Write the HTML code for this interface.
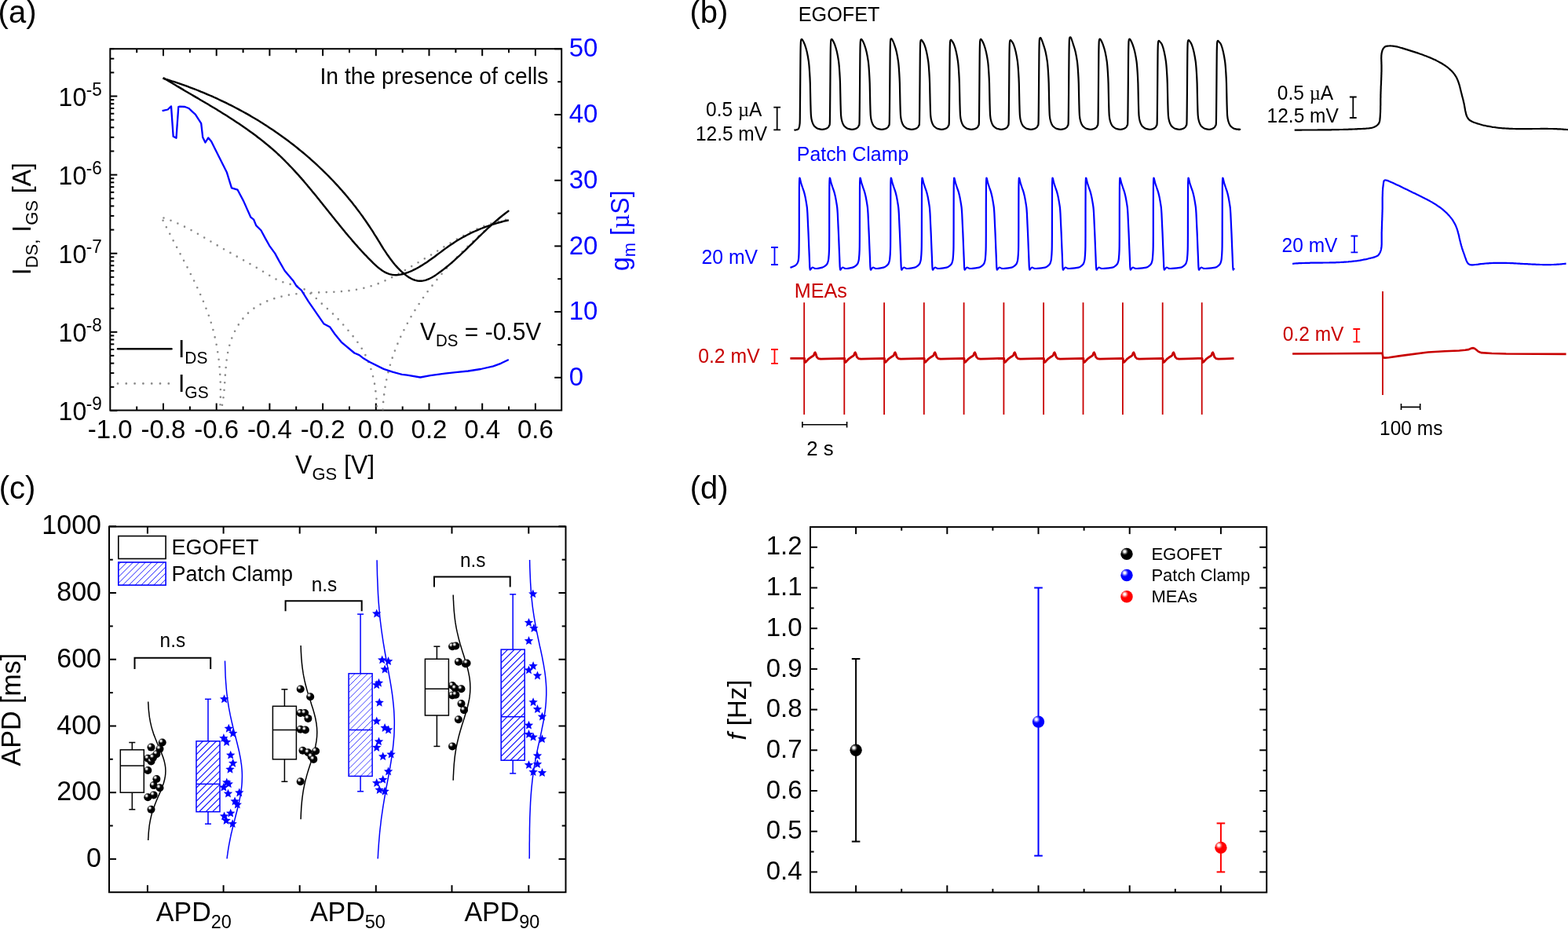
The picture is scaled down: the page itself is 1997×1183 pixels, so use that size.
<!DOCTYPE html>
<html><head><meta charset="utf-8"><style>
html,body{margin:0;padding:0;background:#fff;}
svg{display:block;}
text{font-family:"Liberation Sans", Arial, sans-serif;}
</style></head><body>
<svg width="1997" height="1183" viewBox="0 0 1997 1183">
<defs>
<pattern id="hatch" patternUnits="userSpaceOnUse" width="6" height="6" patternTransform="rotate(45)"><line x1="0" y1="0" x2="0" y2="6" stroke="#0000ff" stroke-width="1.15"/></pattern>
<pattern id="hatchL" patternUnits="userSpaceOnUse" width="5.7" height="5.7" patternTransform="rotate(45)"><line x1="0" y1="0" x2="0" y2="5.7" stroke="#0000ff" stroke-width="0.7"/></pattern>
<pattern id="hatchG" patternUnits="userSpaceOnUse" width="5.6" height="5.6" patternTransform="rotate(45)"><line x1="0" y1="0" x2="0" y2="5.6" stroke="#0000ff" stroke-width="0.9"/></pattern>
<radialGradient id="gk" cx="0.34" cy="0.32" r="0.7" fx="0.33" fy="0.3"><stop offset="0" stop-color="#fff"/><stop offset="0.12" stop-color="#f0f0f0"/><stop offset="0.3" stop-color="#444"/><stop offset="0.42" stop-color="#000"/><stop offset="1" stop-color="#000"/></radialGradient>
<radialGradient id="gb" cx="0.34" cy="0.32" r="0.7" fx="0.33" fy="0.3"><stop offset="0" stop-color="#fff"/><stop offset="0.12" stop-color="#eef"/><stop offset="0.32" stop-color="#44f"/><stop offset="0.45" stop-color="#00f"/><stop offset="1" stop-color="#00f"/></radialGradient>
<radialGradient id="gr" cx="0.34" cy="0.32" r="0.7" fx="0.33" fy="0.3"><stop offset="0" stop-color="#fff"/><stop offset="0.12" stop-color="#fee"/><stop offset="0.32" stop-color="#f44"/><stop offset="0.45" stop-color="#f00"/><stop offset="1" stop-color="#f00"/></radialGradient>
</defs>
<rect width="1997" height="1183" fill="#fff"/>
<text transform="translate(-2.4,29.3) scale(1,1.035)" font-size="40">(a)</text>
<line x1="174.2" y1="62.2" x2="174.2" y2="67.2" stroke="#000" stroke-width="2"/>
<line x1="174.2" y1="522.5" x2="174.2" y2="517.5" stroke="#000" stroke-width="2"/>
<line x1="208" y1="62.2" x2="208" y2="71.2" stroke="#000" stroke-width="2"/>
<line x1="208" y1="522.5" x2="208" y2="513.5" stroke="#000" stroke-width="2"/>
<line x1="241.9" y1="62.2" x2="241.9" y2="67.2" stroke="#000" stroke-width="2"/>
<line x1="241.9" y1="522.5" x2="241.9" y2="517.5" stroke="#000" stroke-width="2"/>
<line x1="275.7" y1="62.2" x2="275.7" y2="71.2" stroke="#000" stroke-width="2"/>
<line x1="275.7" y1="522.5" x2="275.7" y2="513.5" stroke="#000" stroke-width="2"/>
<line x1="309.6" y1="62.2" x2="309.6" y2="67.2" stroke="#000" stroke-width="2"/>
<line x1="309.6" y1="522.5" x2="309.6" y2="517.5" stroke="#000" stroke-width="2"/>
<line x1="343.4" y1="62.2" x2="343.4" y2="71.2" stroke="#000" stroke-width="2"/>
<line x1="343.4" y1="522.5" x2="343.4" y2="513.5" stroke="#000" stroke-width="2"/>
<line x1="377.2" y1="62.2" x2="377.2" y2="67.2" stroke="#000" stroke-width="2"/>
<line x1="377.2" y1="522.5" x2="377.2" y2="517.5" stroke="#000" stroke-width="2"/>
<line x1="411.1" y1="62.2" x2="411.1" y2="71.2" stroke="#000" stroke-width="2"/>
<line x1="411.1" y1="522.5" x2="411.1" y2="513.5" stroke="#000" stroke-width="2"/>
<line x1="445" y1="62.2" x2="445" y2="67.2" stroke="#000" stroke-width="2"/>
<line x1="445" y1="522.5" x2="445" y2="517.5" stroke="#000" stroke-width="2"/>
<line x1="478.8" y1="62.2" x2="478.8" y2="71.2" stroke="#000" stroke-width="2"/>
<line x1="478.8" y1="522.5" x2="478.8" y2="513.5" stroke="#000" stroke-width="2"/>
<line x1="512.7" y1="62.2" x2="512.7" y2="67.2" stroke="#000" stroke-width="2"/>
<line x1="512.7" y1="522.5" x2="512.7" y2="517.5" stroke="#000" stroke-width="2"/>
<line x1="546.5" y1="62.2" x2="546.5" y2="71.2" stroke="#000" stroke-width="2"/>
<line x1="546.5" y1="522.5" x2="546.5" y2="513.5" stroke="#000" stroke-width="2"/>
<line x1="580.4" y1="62.2" x2="580.4" y2="67.2" stroke="#000" stroke-width="2"/>
<line x1="580.4" y1="522.5" x2="580.4" y2="517.5" stroke="#000" stroke-width="2"/>
<line x1="614.2" y1="62.2" x2="614.2" y2="71.2" stroke="#000" stroke-width="2"/>
<line x1="614.2" y1="522.5" x2="614.2" y2="513.5" stroke="#000" stroke-width="2"/>
<line x1="648" y1="62.2" x2="648" y2="67.2" stroke="#000" stroke-width="2"/>
<line x1="648" y1="522.5" x2="648" y2="517.5" stroke="#000" stroke-width="2"/>
<line x1="681.9" y1="62.2" x2="681.9" y2="71.2" stroke="#000" stroke-width="2"/>
<line x1="681.9" y1="522.5" x2="681.9" y2="513.5" stroke="#000" stroke-width="2"/>
<line x1="140.3" y1="522.9" x2="149.3" y2="522.9" stroke="#000" stroke-width="2"/>
<line x1="140.3" y1="492.8" x2="145.3" y2="492.8" stroke="#000" stroke-width="2"/>
<line x1="140.3" y1="475.1" x2="145.3" y2="475.1" stroke="#000" stroke-width="2"/>
<line x1="140.3" y1="462.6" x2="145.3" y2="462.6" stroke="#000" stroke-width="2"/>
<line x1="140.3" y1="452.9" x2="145.3" y2="452.9" stroke="#000" stroke-width="2"/>
<line x1="140.3" y1="445" x2="145.3" y2="445" stroke="#000" stroke-width="2"/>
<line x1="140.3" y1="438.3" x2="145.3" y2="438.3" stroke="#000" stroke-width="2"/>
<line x1="140.3" y1="432.5" x2="145.3" y2="432.5" stroke="#000" stroke-width="2"/>
<line x1="140.3" y1="427.4" x2="145.3" y2="427.4" stroke="#000" stroke-width="2"/>
<line x1="140.3" y1="422.8" x2="149.3" y2="422.8" stroke="#000" stroke-width="2"/>
<line x1="140.3" y1="392.7" x2="145.3" y2="392.7" stroke="#000" stroke-width="2"/>
<line x1="140.3" y1="375" x2="145.3" y2="375" stroke="#000" stroke-width="2"/>
<line x1="140.3" y1="362.5" x2="145.3" y2="362.5" stroke="#000" stroke-width="2"/>
<line x1="140.3" y1="352.8" x2="145.3" y2="352.8" stroke="#000" stroke-width="2"/>
<line x1="140.3" y1="344.9" x2="145.3" y2="344.9" stroke="#000" stroke-width="2"/>
<line x1="140.3" y1="338.2" x2="145.3" y2="338.2" stroke="#000" stroke-width="2"/>
<line x1="140.3" y1="332.4" x2="145.3" y2="332.4" stroke="#000" stroke-width="2"/>
<line x1="140.3" y1="327.3" x2="145.3" y2="327.3" stroke="#000" stroke-width="2"/>
<line x1="140.3" y1="322.7" x2="149.3" y2="322.7" stroke="#000" stroke-width="2"/>
<line x1="140.3" y1="292.6" x2="145.3" y2="292.6" stroke="#000" stroke-width="2"/>
<line x1="140.3" y1="274.9" x2="145.3" y2="274.9" stroke="#000" stroke-width="2"/>
<line x1="140.3" y1="262.4" x2="145.3" y2="262.4" stroke="#000" stroke-width="2"/>
<line x1="140.3" y1="252.7" x2="145.3" y2="252.7" stroke="#000" stroke-width="2"/>
<line x1="140.3" y1="244.8" x2="145.3" y2="244.8" stroke="#000" stroke-width="2"/>
<line x1="140.3" y1="238.1" x2="145.3" y2="238.1" stroke="#000" stroke-width="2"/>
<line x1="140.3" y1="232.3" x2="145.3" y2="232.3" stroke="#000" stroke-width="2"/>
<line x1="140.3" y1="227.2" x2="145.3" y2="227.2" stroke="#000" stroke-width="2"/>
<line x1="140.3" y1="222.6" x2="149.3" y2="222.6" stroke="#000" stroke-width="2"/>
<line x1="140.3" y1="192.5" x2="145.3" y2="192.5" stroke="#000" stroke-width="2"/>
<line x1="140.3" y1="174.8" x2="145.3" y2="174.8" stroke="#000" stroke-width="2"/>
<line x1="140.3" y1="162.3" x2="145.3" y2="162.3" stroke="#000" stroke-width="2"/>
<line x1="140.3" y1="152.6" x2="145.3" y2="152.6" stroke="#000" stroke-width="2"/>
<line x1="140.3" y1="144.7" x2="145.3" y2="144.7" stroke="#000" stroke-width="2"/>
<line x1="140.3" y1="138" x2="145.3" y2="138" stroke="#000" stroke-width="2"/>
<line x1="140.3" y1="132.2" x2="145.3" y2="132.2" stroke="#000" stroke-width="2"/>
<line x1="140.3" y1="127.1" x2="145.3" y2="127.1" stroke="#000" stroke-width="2"/>
<line x1="140.3" y1="122.5" x2="149.3" y2="122.5" stroke="#000" stroke-width="2"/>
<line x1="140.3" y1="92.4" x2="145.3" y2="92.4" stroke="#000" stroke-width="2"/>
<line x1="140.3" y1="74.7" x2="145.3" y2="74.7" stroke="#000" stroke-width="2"/>
<line x1="140.3" y1="62.2" x2="145.3" y2="62.2" stroke="#000" stroke-width="2"/>
<line x1="715.2" y1="480.8" x2="706.2" y2="480.8" stroke="#000" stroke-width="2"/>
<line x1="715.2" y1="439" x2="710.2" y2="439" stroke="#000" stroke-width="2"/>
<line x1="715.2" y1="397.1" x2="706.2" y2="397.1" stroke="#000" stroke-width="2"/>
<line x1="715.2" y1="355.2" x2="710.2" y2="355.2" stroke="#000" stroke-width="2"/>
<line x1="715.2" y1="313.4" x2="706.2" y2="313.4" stroke="#000" stroke-width="2"/>
<line x1="715.2" y1="271.6" x2="710.2" y2="271.6" stroke="#000" stroke-width="2"/>
<line x1="715.2" y1="229.7" x2="706.2" y2="229.7" stroke="#000" stroke-width="2"/>
<line x1="715.2" y1="187.9" x2="710.2" y2="187.9" stroke="#000" stroke-width="2"/>
<line x1="715.2" y1="146" x2="706.2" y2="146" stroke="#000" stroke-width="2"/>
<line x1="715.2" y1="104.2" x2="710.2" y2="104.2" stroke="#000" stroke-width="2"/>
<line x1="715.2" y1="62.3" x2="706.2" y2="62.3" stroke="#000" stroke-width="2"/>
<rect x="140.3" y="62.2" width="574.9" height="460.3" fill="none" stroke="#000" stroke-width="2"/>
<text transform="translate(74.6,535.3) scale(1,1.035)" font-size="32">10</text>
<text transform="translate(109.7,522.3) scale(1,1.035)" font-size="22.5">-9</text>
<text transform="translate(74.6,435.2) scale(1,1.035)" font-size="32">10</text>
<text transform="translate(109.7,422.2) scale(1,1.035)" font-size="22.5">-8</text>
<text transform="translate(74.6,335.1) scale(1,1.035)" font-size="32">10</text>
<text transform="translate(109.7,322.1) scale(1,1.035)" font-size="22.5">-7</text>
<text transform="translate(74.6,235) scale(1,1.035)" font-size="32">10</text>
<text transform="translate(109.7,222) scale(1,1.035)" font-size="22.5">-6</text>
<text transform="translate(74.6,134.9) scale(1,1.035)" font-size="32">10</text>
<text transform="translate(109.7,121.9) scale(1,1.035)" font-size="22.5">-5</text>
<text transform="translate(140.3,557.9) scale(1,1.035)" font-size="33" text-anchor="middle">-1.0</text>
<text transform="translate(208,557.9) scale(1,1.035)" font-size="33" text-anchor="middle">-0.8</text>
<text transform="translate(275.7,557.9) scale(1,1.035)" font-size="33" text-anchor="middle">-0.6</text>
<text transform="translate(343.4,557.9) scale(1,1.035)" font-size="33" text-anchor="middle">-0.4</text>
<text transform="translate(411.1,557.9) scale(1,1.035)" font-size="33" text-anchor="middle">-0.2</text>
<text transform="translate(478.8,557.9) scale(1,1.035)" font-size="33" text-anchor="middle">0.0</text>
<text transform="translate(546.5,557.9) scale(1,1.035)" font-size="33" text-anchor="middle">0.2</text>
<text transform="translate(614.2,557.9) scale(1,1.035)" font-size="33" text-anchor="middle">0.4</text>
<text transform="translate(681.9,557.9) scale(1,1.035)" font-size="33" text-anchor="middle">0.6</text>
<text transform="translate(724.7,490.9) scale(1,1.035)" font-size="33" fill="#0000ff">0</text>
<text transform="translate(724.7,407.2) scale(1,1.035)" font-size="33" fill="#0000ff">10</text>
<text transform="translate(724.7,323.5) scale(1,1.035)" font-size="33" fill="#0000ff">20</text>
<text transform="translate(724.7,239.8) scale(1,1.035)" font-size="33" fill="#0000ff">30</text>
<text transform="translate(724.7,156.1) scale(1,1.035)" font-size="33" fill="#0000ff">40</text>
<text transform="translate(724.7,72.4) scale(1,1.035)" font-size="33" fill="#0000ff">50</text>
<text transform="translate(38.8,350.2) rotate(-90) scale(1,1.035)" font-size="32">I<tspan font-size="22" dy="9">DS,</tspan><tspan dy="-9"> I</tspan><tspan font-size="22" dy="9">GS</tspan><tspan dy="-9"> [A]</tspan></text>
<text transform="translate(800.5,345) rotate(-90) scale(1,1.035)" font-size="32" fill="#0000ff">g<tspan font-size="22" dy="8.4">m</tspan><tspan dy="-8.4"> [<tspan font-family="Liberation Serif, serif">µ</tspan>S]</tspan></text>
<text transform="translate(376.1,602.8) scale(1,1.035)" font-size="32">V<tspan font-size="22" dy="8.2">GS</tspan><tspan dy="-8.2"> [V]</tspan></text>
<text transform="translate(407.5,107.2) scale(1,1.035)" font-size="28.3">In the presence of cells</text>
<text transform="translate(535,432.9) scale(1,1.035)" font-size="30">V<tspan font-size="20.5" dy="8">DS</tspan><tspan dy="-8"> = -0.5V</tspan></text>
<line x1="150" y1="444.2" x2="218.5" y2="444.2" stroke="#000" stroke-width="2.4" stroke-linecap="round"/>
<line x1="150" y1="488.4" x2="217" y2="488.4" stroke="#8a8a8a" stroke-width="2.8" stroke-dasharray="0 10.8" stroke-linecap="round"/>
<text transform="translate(227,455) scale(1,1.035)" font-size="30">I<tspan font-size="21" dy="8">DS</tspan></text>
<text transform="translate(227,499) scale(1,1.035)" font-size="30">I<tspan font-size="21" dy="8">GS</tspan></text>
<clipPath id="clipA"><rect x="140.3" y="62.2" width="574.9" height="460.3"/></clipPath>
<path d="M208.5,277.5 211.4,278.5 214.2,279.5 217.1,280.6 219.9,281.7 222.7,282.9 225.4,284.1 228.2,285.3 230.9,286.6 233.6,287.9 236.3,289.3 239,290.7 241.7,292.1 244.3,293.5 247,295 249.6,296.4 252.2,297.9 254.8,299.4 257.4,301 260,302.5 262.6,304 265.2,305.6 267.8,307.1 270.4,308.7 273,310.2 275.6,311.7 278.2,313.3 280.9,314.8 283.5,316.3 286.1,317.8 288.7,319.3 291.3,320.8 294,322.2 296.6,323.7 299.2,325.2 301.8,326.7 304.5,328.2 307.1,329.6 309.7,331.1 312.4,332.6 315,334.1 317.6,335.6 320.2,337.1 322.8,338.6 325.4,340.1 328.1,341.6 330.7,343.2 333.2,344.7 335.8,346.3 338.4,347.8 341,349.4 343.6,351 346.2,352.6 348.8,354.1 351.4,355.5 354.1,356.8 356.9,358 359.7,359.1 362.6,360 365.6,360.9 368.5,361.6 371.5,362.4 374.4,363.2 377.3,364.1 380.2,365 382.9,366.1 385.6,367.3 388.2,368.7 390.7,370.2 393.1,371.9 395.5,373.7 397.8,375.6 400,377.6 402.3,379.6 404.5,381.7 406.7,383.7 408.9,385.8 411.1,387.9 413.3,389.9 415.6,391.9 417.8,393.9 420,395.9 422.2,397.9 424.3,399.9 426.5,402 428.5,404 430.5,406.2 432.5,408.3 434.5,410.5 436.5,412.7 438.4,415 440.4,417.2 442.4,419.5 444.4,421.8 446.3,424.2 448.3,426.5 450.2,428.9 452.1,431.4 454,433.8 455.8,436.3 457.5,438.8 459.2,441.3 460.8,443.9 462.3,446.5 463.8,449.1 465.2,451.8 466.5,454.5 467.7,457.2 468.8,459.9 469.9,462.7 471,465.5 471.9,468.3 472.8,471.1 473.7,474 474.4,476.9 475.2,479.8 475.8,482.7 476.4,485.6 477,488.5 477.5,491.5 477.9,494.5 478.3,497.5 478.7,500.5 479,503.5 479.3,506.5 479.5,509.5 479.7,512.6 479.8,515.6 479.9,518.7 480,521.7 480,524.8 480,527.9 479.9,530.9 479.9,534 479.8,537.1 479.7,540.1" fill="none" stroke="#8a8a8a" stroke-width="2.6" stroke-linejoin="round" stroke-dasharray="0 9.6" stroke-linecap="round" clip-path="url(#clipA)"/>
<path d="M207.6,280.7 209,283.4 210.3,286.1 211.6,288.8 213,291.5 214.4,294.2 215.8,296.9 217.2,299.6 218.6,302.4 220,305.1 221.4,307.8 222.8,310.5 224.2,313.2 225.7,315.9 227.1,318.6 228.5,321.3 229.9,324 231.4,326.7 232.8,329.4 234.2,332.1 235.6,334.9 237.1,337.6 238.5,340.3 239.9,343 241.3,345.8 242.6,348.5 244,351.3 245.4,354 246.7,356.7 248.1,359.5 249.4,362.3 250.7,365 252,367.8 253.2,370.6 254.5,373.4 255.7,376.1 256.9,378.9 258.1,381.7 259.3,384.6 260.4,387.4 261.6,390.2 262.6,393 263.7,395.9 264.7,398.7 265.8,401.6 266.7,404.5 267.7,407.3 268.6,410.2 269.5,413.1 270.3,416 271.1,418.9 271.9,421.9 272.6,424.8 273.3,427.8 274,430.7 274.7,433.7 275.3,436.7 275.8,439.7 276.4,442.6 276.9,445.7 277.3,448.7 277.8,451.7 278.2,454.7 278.6,457.7 278.9,460.8 279.2,463.8 279.5,466.9 279.8,469.9 280,473 280.2,476.1 280.4,479.1 280.6,482.2 280.7,485.3 280.8,488.4 280.9,491.5 280.9,494.6 280.9,497.7 280.9,500.8 280.9,503.9 280.8,507 280.8,510.1 280.7,513.2 280.5,516.3" fill="none" stroke="#8a8a8a" stroke-width="2.6" stroke-linejoin="round" stroke-dasharray="0 9.6" stroke-linecap="round" clip-path="url(#clipA)"/>
<path d="M283,515.8 283.6,512.9 284,510 284.4,507.1 284.8,504.1 285.1,501.2 285.4,498.2 285.7,495.2 285.9,492.2 286.1,489.2 286.3,486.1 286.5,483.1 286.7,480 286.9,477 287.2,473.9 287.4,470.9 287.7,467.8 287.9,464.8 288.3,461.8 288.6,458.7 289,455.7 289.5,452.7 290,449.7 290.6,446.7 291.3,443.7 292,440.8 292.8,437.8 293.7,434.9 294.7,432.1 295.8,429.2 296.9,426.4 298.2,423.6 299.5,420.9 300.9,418.3 302.4,415.7 304,413.1 305.6,410.6 307.4,408.2 309.2,405.9 311.1,403.6 313.2,401.4 315.2,399.4 317.4,397.4 319.7,395.5 322,393.6 324.4,391.9 326.9,390.3 329.5,388.8 332.1,387.3 334.7,385.9 337.5,384.6 340.2,383.4 343.1,382.3 345.9,381.3 348.8,380.3 351.7,379.4 354.7,378.5 357.6,377.8 360.6,377.1 363.6,376.4 366.6,375.8 369.6,375.3 372.6,374.9 375.7,374.5 378.7,374.1 381.7,373.8 384.7,373.5 387.8,373.3 390.8,373.1 393.8,372.9 396.8,372.8 399.9,372.6 402.9,372.5 405.9,372.4 409,372.3 412,372.2 415,372.1 418,372 421.1,371.9 424.1,371.8 427.1,371.6 430.1,371.4 433.1,371.2 436.1,371 439.1,370.7 442.1,370.4 445.1,370.1 448.1,369.7 451,369.3 454,368.8 456.9,368.3 459.9,367.7 462.8,367 465.7,366.3 468.6,365.6 471.4,364.7 474.3,363.8 477.1,362.9 479.9,361.8 482.6,360.8 485.4,359.6 488.2,358.4 490.9,357.2 493.6,355.9 496.3,354.6 499,353.2 501.6,351.8 504.3,350.4 506.9,349 509.6,347.5 512.2,346.1 514.8,344.6 517.4,343.1 520,341.6 522.6,340.1 525.2,338.5 527.8,337 530.4,335.5 533,334 535.6,332.5 538.2,330.9 540.7,329.4 543.3,327.9 545.9,326.3 548.5,324.8 551,323.2 553.6,321.6 556.2,320.1 558.8,318.5 561.3,316.9 563.9,315.3 566.5,313.8 569.1,312.2 571.7,310.6 574.3,309.1 576.9,307.6 579.5,306 582.1,304.5 584.7,303 587.4,301.6 590,300.1 592.7,298.7 595.4,297.3 598.1,296 600.8,294.6 603.5,293.3 606.2,292.1 609,290.9 611.8,289.7 614.5,288.5 617.3,287.4 620.2,286.4 623,285.4 625.9,284.4 628.8,283.5 631.7,282.7 634.7,281.9 637.6,281.1 640.6,280.5 643.7,279.9 646.7,279.3" fill="none" stroke="#8a8a8a" stroke-width="2.6" stroke-linejoin="round" stroke-dasharray="0 9.6" stroke-linecap="round" clip-path="url(#clipA)"/>
<path d="M487.7,540.7 487.6,537.5 487.5,534.3 487.5,531.1 487.5,528 487.5,524.9 487.6,521.7 487.8,518.6 487.9,515.5 488.1,512.4 488.4,509.3 488.7,506.2 489.1,503.2 489.4,500.1 489.9,497.1 490.3,494.1 490.8,491.1 491.3,488.1 491.9,485.1 492.5,482.1 493.2,479.2 493.9,476.2 494.6,473.3 495.3,470.4 496.1,467.4 497,464.5 497.8,461.7 498.7,458.8 499.6,455.9 500.6,453.1 501.6,450.2 502.6,447.4 503.7,444.6 504.8,441.8 505.9,439 507,436.2 508.2,433.5 509.4,430.7 510.7,428 512,425.3 513.3,422.6 514.6,419.9 516,417.2 517.4,414.5 518.8,411.8 520.2,409.2 521.7,406.6 523.2,403.9 524.7,401.3 526.2,398.7 527.8,396.2 529.4,393.6 531,391 532.7,388.5 534.3,386 536,383.4 537.8,380.9 539.5,378.4 541.3,376 543,373.5 544.8,371 546.7,368.6 548.5,366.2 550.4,363.8 552.2,361.4 554.1,359 556.1,356.6 558,354.2 560,351.9 561.9,349.5 563.9,347.2 565.9,344.9 568,342.6 570,340.3 572.1,338.1 574.1,335.8 576.2,333.6 578.3,331.3 580.4,329.1 582.5,326.9 584.7,324.7 586.8,322.5 589,320.4 591.2,318.2 593.4,316.1 595.6,313.9 597.8,311.8 600,309.7 602.2,307.6 604.5,305.5 606.7,303.5 609,301.4 611.2,299.4 613.5,297.3 615.8,295.3 618,293.3 620.3,291.3 622.6,289.4 624.9,287.4 627.2,285.4 629.5,283.5 631.9,281.6 634.2,279.6 636.5,277.7 638.8,275.8 641.1,274 643.5,272.1 645.8,270.2 648.1,268.4" fill="none" stroke="#8a8a8a" stroke-width="2.6" stroke-linejoin="round" stroke-dasharray="0 9.6" stroke-linecap="round" clip-path="url(#clipA)"/>
<path d="M207.4,99.7 210.3,100.6 213.2,101.4 216.1,102.3 219,103.3 221.9,104.2 224.8,105.2 227.7,106.1 230.5,107.1 233.4,108.1 236.3,109.2 239.1,110.2 242,111.3 244.8,112.3 247.6,113.4 250.5,114.5 253.3,115.6 256.1,116.8 258.9,117.9 261.7,119.1 264.5,120.3 267.3,121.5 270.1,122.7 272.9,124 275.6,125.2 278.4,126.5 281.1,127.8 283.9,129.1 286.6,130.4 289.3,131.7 292,133.1 294.7,134.4 297.4,135.8 300.1,137.2 302.8,138.6 305.5,140.1 308.1,141.5 310.8,143 313.4,144.4 316.1,145.9 318.7,147.4 321.3,149 323.9,150.5 326.5,152 329.1,153.6 331.7,155.2 334.2,156.8 336.8,158.4 339.3,160.1 341.8,161.7 344.4,163.4 346.9,165 349.4,166.7 351.9,168.5 354.4,170.2 356.8,171.9 359.3,173.7 361.7,175.4 364.2,177.2 366.6,179 369,180.9 371.4,182.7 373.8,184.5 376.1,186.4 378.5,188.3 380.8,190.2 383.2,192.1 385.5,194 387.8,195.9 390.1,197.9 392.4,199.9 394.7,201.8 396.9,203.8 399.2,205.9 401.4,207.9 403.6,209.9 405.8,212 408,214.1 410.2,216.1 412.4,218.3 414.5,220.4 416.7,222.5 418.8,224.6 420.9,226.8 423,229 425.1,231.2 427.1,233.4 429.2,235.6 431.2,237.8 433.2,240.1 435.2,242.3 437.2,244.6 439.2,246.9 441.2,249.2 443.1,251.5 445,253.9 447,256.2 448.9,258.6 450.7,261 452.6,263.3 454.4,265.8 456.3,268.2 458.1,270.6 459.9,273.1 461.7,275.5 463.4,278 465.2,280.5 466.9,283 468.6,285.5 470.3,288 472,290.6 473.7,293.1 475.3,295.7 476.9,298.3 478.6,300.9 480.2,303.5 481.8,306.1 483.4,308.7 485,311.4 486.6,314 488.2,316.6 489.9,319.2 491.6,321.7 493.3,324.3 495.1,326.8 496.9,329.3 498.8,331.8 500.7,334.3 502.7,336.7 504.8,339.1 506.9,341.4 509.1,343.7 511.4,345.9 513.8,348 516.2,349.9 518.7,351.7 521.2,353.4 523.7,354.8 526.3,356 528.9,356.9 531.5,357.5 534.1,357.8 536.7,357.8 539.3,357.4 541.9,356.8 544.5,355.9 547.1,354.8 549.7,353.5 552.3,352 554.8,350.4 557.3,348.6 559.8,346.8 562.3,345 564.8,343.1 567.2,341.2 569.6,339.3 571.9,337.3 574.3,335.3 576.6,333.3 578.9,331.3 581.2,329.2 583.4,327.2 585.7,325.1 587.9,323 590.1,320.9 592.4,318.8 594.6,316.7 596.7,314.5 598.9,312.4 601.1,310.3 603.3,308.1 605.5,306 607.7,303.9 609.8,301.7 612,299.6 614.2,297.5 616.4,295.4 618.6,293.3 620.8,291.2 623,289.2 625.2,287.1 627.4,285.1 629.7,283.1 631.9,281.1 634.2,279.2 636.5,277.3 638.8,275.4 641.2,273.5 643.5,271.7 645.9,269.9 648.3,268.1" fill="none" stroke="#000" stroke-width="2.4" stroke-linejoin="round"/>
<path d="M208,99.1 210.5,100.7 213.1,102.2 215.6,103.8 218.2,105.3 220.7,106.8 223.3,108.3 225.9,109.9 228.5,111.4 231,112.9 233.6,114.4 236.2,116 238.8,117.5 241.4,119 244,120.5 246.7,122.1 249.3,123.6 251.9,125.1 254.5,126.7 257.1,128.2 259.7,129.7 262.3,131.3 265,132.8 267.6,134.4 270.2,136 272.8,137.5 275.4,139.1 278,140.7 280.6,142.3 283.2,143.9 285.7,145.5 288.3,147.1 290.9,148.8 293.5,150.4 296,152.1 298.6,153.7 301.1,155.4 303.6,157.1 306.2,158.8 308.7,160.5 311.2,162.2 313.7,163.9 316.1,165.7 318.6,167.5 321.1,169.2 323.5,171 325.9,172.8 328.3,174.7 330.7,176.5 333.1,178.4 335.5,180.3 337.8,182.2 340.2,184.1 342.5,186 344.8,188 347.1,189.9 349.3,191.9 351.6,193.9 353.8,196 356,198 358.2,200.1 360.3,202.2 362.5,204.3 364.6,206.5 366.7,208.6 368.8,210.8 370.9,213 373,215.2 375,217.4 377,219.6 379.1,221.8 381.1,224.1 383.1,226.4 385.1,228.6 387.1,230.9 389,233.2 391,235.5 392.9,237.9 394.9,240.2 396.8,242.5 398.7,244.9 400.7,247.2 402.6,249.6 404.5,251.9 406.4,254.3 408.3,256.7 410.2,259 412.1,261.4 414,263.8 415.9,266.2 417.8,268.5 419.7,270.9 421.6,273.3 423.5,275.7 425.4,278 427.3,280.4 429.2,282.8 431.1,285.1 433,287.5 434.9,289.8 436.9,292.2 438.8,294.5 440.7,296.9 442.7,299.2 444.6,301.5 446.6,303.8 448.5,306.1 450.5,308.4 452.5,310.7 454.5,312.9 456.5,315.2 458.5,317.4 460.6,319.7 462.6,321.9 464.7,324.1 466.8,326.2 468.8,328.4 471,330.6 473.1,332.7 475.2,334.8 477.4,336.9 479.6,338.9 481.8,340.8 484.1,342.6 486.4,344.2 488.7,345.7 491.2,347.1 493.6,348.2 496.2,349.1 498.8,349.7 501.5,350.1 504.3,350.2 507.1,350 510,349.6 513,349 515.9,348.1 518.9,347.1 521.8,346 524.7,344.8 527.5,343.4 530.3,342 533,340.5 535.7,338.9 538.4,337.3 541,335.6 543.6,333.9 546.2,332.1 548.7,330.3 551.2,328.5 553.7,326.7 556.2,324.8 558.7,322.9 561.2,321.1 563.6,319.2 566.1,317.4 568.6,315.6 571.1,313.8 573.6,312.1 576.1,310.4 578.6,308.7 581.1,307.1 583.7,305.5 586.3,304 588.8,302.5 591.5,301.1 594.1,299.7 596.7,298.3 599.4,297 602.1,295.7 604.8,294.5 607.5,293.3 610.2,292.1 613,291 615.8,289.9 618.6,288.9 621.4,287.9 624.2,286.9 627.1,285.9 630,285 632.9,284.2 635.9,283.3 638.9,282.5 641.9,281.7 644.9,281 647.9,280.3" fill="none" stroke="#000" stroke-width="2.4" stroke-linejoin="round"/>
<path d="M206.6,141.2 213.7,139.5 218,135.4 220.7,173.8 224.5,175.7 227.3,136.2 229,135.7 235.5,136 240.6,138 244.6,141.8 248.8,145.6 256.2,157.2 258.2,174.7 261.5,181.5 265.3,175.4 269.1,180 275.2,192.2 288.9,219.6 295,239.4 302.6,241.7 310.2,256.1 319.4,276.7 323.2,279.7 326.2,287.1 332.4,293.3 337.7,303.1 343.1,312.8 350.2,322.6 355.5,332.4 362.6,344.8 373.2,357.2 377.7,364.3 383.9,369.6 392.8,383.8 412.3,412.2 420.3,416.6 426.5,425.5 435.3,436.2 451.3,449.5 457.5,452.1 462,455.7 470.8,461 488.6,469.9 500,473.7 512,476.9 518.4,477.7 535.3,480.5 548.1,478.1 566.5,475.7 580.1,474.1 596.2,472.5 612.2,470 628.2,466.4 637.8,462.8 647.8,458" fill="none" stroke="#0000ff" stroke-width="2.3" stroke-linejoin="round"/>
<text transform="translate(878.5,29.3) scale(1,1.035)" font-size="40">(b)</text>
<text transform="translate(1016.8,26.9) scale(1,1.035)" font-size="25.2">EGOFET</text>
<text transform="translate(1014.8,204.5) scale(1,1.035)" font-size="24.9" fill="#0000ff">Patch Clamp</text>
<text transform="translate(1011.8,378.9) scale(1,1.035)" font-size="25.2" fill="#c80000">MEAs</text>
<path d="M1011.4,165.7 C1011.9,165.6 1013.5,165.6 1014.5,165.3 C1015.5,165 1016.5,165.1 1017.2,163.8 C1017.9,162.5 1018.3,161.5 1018.6,157.5 C1018.9,153.5 1018.8,148.6 1018.9,140 C1019,131.4 1019.1,117.7 1019.2,106 C1019.3,94.3 1019.4,78.8 1019.5,70 C1019.6,61.2 1019.7,56.5 1019.9,53.2 C1020.1,49.9 1020.4,50.3 1020.8,50 C1021.2,49.7 1021.5,50.1 1022.2,51.2 C1022.9,52.3 1024,54.1 1024.9,56.6 C1025.8,59.1 1026.9,62.4 1027.7,66 C1028.5,69.6 1029.3,73.9 1029.9,78.2 C1030.5,82.5 1030.8,87.3 1031.1,92 C1031.4,96.7 1031.6,99.8 1031.8,106.1 C1032,112.4 1032.1,123.2 1032.3,130 C1032.5,136.8 1032.6,142.9 1032.9,147 C1033.2,151.1 1033.6,152.4 1034.2,154.5 C1034.8,156.6 1035.5,158.2 1036.3,159.4 C1037,160.7 1037.8,161.3 1038.7,162 C1039.6,162.7 1040.3,163.4 1041.4,163.8 C1042.5,164.2 1043.9,164.4 1045.2,164.6 C1046.5,164.8 1047.6,164.9 1049,164.7 C1050.4,164.5 1052.4,163.7 1053.4,163.2 C1054.4,162.7 1054.6,162.5 1055.1,161.9 C1055.6,161.3 1055.9,160.2 1056.2,159.5 C1056.5,158.8 1056.6,160.8 1056.8,157.5 C1057,154.2 1057,148.6 1057.1,140 C1057.2,131.4 1057.3,117.7 1057.4,106 C1057.5,94.3 1057.6,78.8 1057.7,70 C1057.8,61.2 1057.9,56.5 1058.1,53.2 C1058.3,49.9 1058.6,50.3 1059,50 C1059.4,49.7 1059.7,50.1 1060.4,51.2 C1061.1,52.3 1062.2,54.1 1063.1,56.6 C1064,59.1 1065.1,62.4 1065.9,66 C1066.7,69.6 1067.5,73.9 1068.1,78.2 C1068.7,82.5 1069,87.3 1069.3,92 C1069.6,96.7 1069.8,99.8 1070,106.1 C1070.2,112.4 1070.3,123.2 1070.5,130 C1070.7,136.8 1070.8,142.9 1071.1,147 C1071.4,151.1 1071.8,152.4 1072.4,154.5 C1073,156.6 1073.7,158.2 1074.5,159.4 C1075.2,160.7 1076,161.3 1076.9,162 C1077.8,162.7 1078.5,163.4 1079.6,163.8 C1080.7,164.2 1082.1,164.4 1083.4,164.6 C1084.7,164.8 1085.9,164.9 1087.2,164.7 C1088.5,164.5 1090.2,163.7 1091.1,163.2 C1092,162.7 1092.3,162.5 1092.8,161.9 C1093.3,161.3 1093.6,160.2 1093.9,159.5 C1094.2,158.8 1094.3,160.8 1094.5,157.5 C1094.7,154.2 1094.7,148.6 1094.8,140 C1094.9,131.4 1095,117.7 1095.1,106 C1095.2,94.3 1095.3,78.8 1095.4,70 C1095.5,61.2 1095.6,56.5 1095.8,53.2 C1096,49.9 1096.3,50.3 1096.7,50 C1097.1,49.7 1097.4,50.1 1098.1,51.2 C1098.8,52.3 1099.9,54.1 1100.8,56.6 C1101.7,59.1 1102.8,62.4 1103.6,66 C1104.4,69.6 1105.2,73.9 1105.8,78.2 C1106.4,82.5 1106.7,87.3 1107,92 C1107.3,96.7 1107.5,99.8 1107.7,106.1 C1107.9,112.4 1108,123.2 1108.2,130 C1108.4,136.8 1108.5,142.9 1108.8,147 C1109.1,151.1 1109.5,152.4 1110.1,154.5 C1110.7,156.6 1111.4,158.2 1112.2,159.4 C1112.9,160.7 1113.8,161.3 1114.6,162 C1115.4,162.7 1116.2,163.4 1117.3,163.8 C1118.4,164.2 1119.8,164.4 1121.1,164.6 C1122.4,164.8 1123.5,164.9 1124.9,164.7 C1126.3,164.5 1128.3,163.7 1129.3,163.2 C1130.3,162.7 1130.5,162.5 1131,161.9 C1131.5,161.3 1131.8,160.2 1132.1,159.5 C1132.4,158.8 1132.5,160.8 1132.7,157.5 C1132.9,154.2 1132.9,148.6 1133,140 C1133.1,131.4 1133.2,117.7 1133.3,106 C1133.4,94.3 1133.5,78.9 1133.6,70 C1133.7,61.1 1133.8,56 1134,52.5 C1134.2,49 1134.5,49.6 1134.9,49.3 C1135.3,49 1135.6,49.3 1136.3,50.5 C1137,51.7 1138.1,54 1139,56.6 C1139.9,59.2 1141,62.4 1141.8,66 C1142.6,69.6 1143.4,73.9 1144,78.2 C1144.6,82.5 1144.9,87.3 1145.2,92 C1145.5,96.7 1145.7,99.8 1145.9,106.1 C1146.1,112.4 1146.2,123.2 1146.4,130 C1146.6,136.8 1146.7,142.9 1147,147 C1147.3,151.1 1147.7,152.4 1148.3,154.5 C1148.9,156.6 1149.6,158.2 1150.4,159.4 C1151.1,160.7 1151.9,161.3 1152.8,162 C1153.7,162.7 1154.4,163.4 1155.5,163.8 C1156.6,164.2 1158,164.4 1159.3,164.6 C1160.6,164.8 1161.7,164.9 1163.1,164.7 C1164.5,164.5 1166.5,163.7 1167.5,163.2 C1168.5,162.7 1168.7,162.5 1169.2,161.9 C1169.7,161.3 1170,160.2 1170.3,159.5 C1170.6,158.8 1170.8,160.8 1170.9,157.5 C1171.1,154.2 1171.1,148.6 1171.2,140 C1171.3,131.4 1171.4,117.7 1171.5,106 C1171.6,94.3 1171.7,78.7 1171.8,70 C1171.9,61.3 1172,57.2 1172.2,54 C1172.4,50.8 1172.7,51.1 1173.1,50.8 C1173.5,50.5 1173.8,51 1174.5,52 C1175.2,53 1176.3,54.3 1177.2,56.6 C1178.1,58.9 1179.2,62.4 1180,66 C1180.8,69.6 1181.6,73.9 1182.2,78.2 C1182.8,82.5 1183.1,87.3 1183.4,92 C1183.7,96.7 1183.9,99.8 1184.1,106.1 C1184.3,112.4 1184.4,123.2 1184.6,130 C1184.8,136.8 1184.9,142.9 1185.2,147 C1185.5,151.1 1185.9,152.4 1186.5,154.5 C1187.1,156.6 1187.8,158.2 1188.6,159.4 C1189.3,160.7 1190.2,161.3 1191,162 C1191.8,162.7 1192.6,163.4 1193.7,163.8 C1194.8,164.2 1196.2,164.4 1197.5,164.6 C1198.8,164.8 1200,164.9 1201.3,164.7 C1202.6,164.5 1204.3,163.7 1205.3,163.2 C1206.2,162.7 1206.5,162.5 1207,161.9 C1207.5,161.3 1207.8,160.2 1208.1,159.5 C1208.4,158.8 1208.5,160.8 1208.7,157.5 C1208.9,154.2 1208.9,148.6 1209,140 C1209.1,131.4 1209.2,117.7 1209.3,106 C1209.4,94.3 1209.5,78.7 1209.6,70 C1209.7,61.3 1209.8,57.2 1210,54 C1210.2,50.8 1210.5,51.1 1210.9,50.8 C1211.3,50.5 1211.6,51 1212.3,52 C1213,53 1214.1,54.3 1215,56.6 C1215.9,58.9 1217,62.4 1217.8,66 C1218.6,69.6 1219.4,73.9 1220,78.2 C1220.6,82.5 1220.9,87.3 1221.2,92 C1221.5,96.7 1221.7,99.8 1221.9,106.1 C1222.1,112.4 1222.2,123.2 1222.4,130 C1222.6,136.8 1222.7,142.9 1223,147 C1223.3,151.1 1223.7,152.4 1224.3,154.5 C1224.9,156.6 1225.6,158.2 1226.4,159.4 C1227.1,160.7 1227.9,161.3 1228.8,162 C1229.7,162.7 1230.4,163.4 1231.5,163.8 C1232.6,164.2 1234,164.4 1235.3,164.6 C1236.6,164.8 1237.8,164.9 1239.1,164.7 C1240.4,164.5 1242.4,163.7 1243.4,163.2 C1244.4,162.7 1244.6,162.5 1245.1,161.9 C1245.6,161.3 1245.9,160.2 1246.2,159.5 C1246.5,158.8 1246.6,160.8 1246.8,157.5 C1247,154.2 1247,148.6 1247.1,140 C1247.2,131.4 1247.3,117.7 1247.4,106 C1247.5,94.3 1247.6,78.8 1247.7,70 C1247.8,61.2 1247.9,56.5 1248.1,53.2 C1248.3,49.9 1248.6,50.3 1249,50 C1249.4,49.7 1249.7,50.1 1250.4,51.2 C1251.1,52.3 1252.2,54.1 1253.1,56.6 C1254,59.1 1255.1,62.4 1255.9,66 C1256.7,69.6 1257.5,73.9 1258.1,78.2 C1258.7,82.5 1259,87.3 1259.3,92 C1259.6,96.7 1259.8,99.8 1260,106.1 C1260.2,112.4 1260.3,123.2 1260.5,130 C1260.7,136.8 1260.8,142.9 1261.1,147 C1261.4,151.1 1261.8,152.4 1262.4,154.5 C1263,156.6 1263.7,158.2 1264.5,159.4 C1265.2,160.7 1266,161.3 1266.9,162 C1267.8,162.7 1268.5,163.4 1269.6,163.8 C1270.7,164.2 1272.1,164.4 1273.4,164.6 C1274.7,164.8 1275.9,164.9 1277.2,164.7 C1278.5,164.5 1280.2,163.7 1281.2,163.2 C1282.1,162.7 1282.4,162.5 1282.9,161.9 C1283.4,161.3 1283.7,160.2 1284,159.5 C1284.3,158.8 1284.4,160.8 1284.6,157.5 C1284.8,154.2 1284.8,148.6 1284.9,140 C1285,131.4 1285.1,117.7 1285.2,106 C1285.3,94.3 1285.4,78.6 1285.5,70 C1285.6,61.4 1285.7,57.5 1285.9,54.3 C1286.1,51.2 1286.4,51.4 1286.8,51.1 C1287.2,50.8 1287.5,51.4 1288.2,52.3 C1288.9,53.2 1290,54.3 1290.9,56.6 C1291.8,58.9 1292.9,62.4 1293.7,66 C1294.5,69.6 1295.3,73.9 1295.9,78.2 C1296.5,82.5 1296.8,87.3 1297.1,92 C1297.4,96.7 1297.6,99.8 1297.8,106.1 C1298,112.4 1298.1,123.2 1298.3,130 C1298.5,136.8 1298.6,142.9 1298.9,147 C1299.2,151.1 1299.6,152.4 1300.2,154.5 C1300.8,156.6 1301.5,158.2 1302.3,159.4 C1303,160.7 1303.8,161.3 1304.7,162 C1305.5,162.7 1306.3,163.4 1307.4,163.8 C1308.5,164.2 1309.9,164.4 1311.2,164.6 C1312.5,164.8 1313.7,164.9 1315,164.7 C1316.3,164.5 1318.1,163.7 1319.1,163.2 C1320.1,162.7 1320.3,162.5 1320.8,161.9 C1321.3,161.3 1321.6,160.2 1321.9,159.5 C1322.2,158.8 1322.3,160.8 1322.5,157.5 C1322.7,154.2 1322.7,148.6 1322.8,140 C1322.9,131.4 1323,117.7 1323.1,106 C1323.2,94.3 1323.3,79.1 1323.4,70 C1323.5,60.9 1323.6,55 1323.8,51.4 C1324,47.8 1324.3,48.5 1324.7,48.2 C1325.1,47.9 1325.4,48 1326.1,49.4 C1326.8,50.8 1327.9,53.8 1328.8,56.6 C1329.7,59.4 1330.8,62.4 1331.6,66 C1332.4,69.6 1333.2,73.9 1333.8,78.2 C1334.4,82.5 1334.7,87.3 1335,92 C1335.3,96.7 1335.5,99.8 1335.7,106.1 C1335.9,112.4 1336,123.2 1336.2,130 C1336.4,136.8 1336.5,142.9 1336.8,147 C1337.1,151.1 1337.5,152.4 1338.1,154.5 C1338.7,156.6 1339.4,158.2 1340.2,159.4 C1340.9,160.7 1341.8,161.3 1342.6,162 C1343.4,162.7 1344.2,163.4 1345.3,163.8 C1346.4,164.2 1347.8,164.4 1349.1,164.6 C1350.4,164.8 1351.5,164.9 1352.9,164.7 C1354.2,164.5 1356.2,163.7 1357.2,163.2 C1358.2,162.7 1358.4,162.5 1358.9,161.9 C1359.4,161.3 1359.7,160.2 1360,159.5 C1360.3,158.8 1360.4,160.8 1360.6,157.5 C1360.8,154.2 1360.8,148.6 1360.9,140 C1361,131.4 1361.1,117.7 1361.2,106 C1361.3,94.3 1361.4,79.2 1361.5,70 C1361.6,60.8 1361.7,54.4 1361.9,50.6 C1362.1,46.8 1362.4,47.7 1362.8,47.4 C1363.2,47.1 1363.5,47.1 1364.2,48.6 C1364.9,50.1 1366,53.7 1366.9,56.6 C1367.8,59.5 1368.9,62.4 1369.7,66 C1370.5,69.6 1371.3,73.9 1371.9,78.2 C1372.5,82.5 1372.8,87.3 1373.1,92 C1373.4,96.7 1373.6,99.8 1373.8,106.1 C1374,112.4 1374.1,123.2 1374.3,130 C1374.5,136.8 1374.6,142.9 1374.9,147 C1375.2,151.1 1375.6,152.4 1376.2,154.5 C1376.8,156.6 1377.5,158.2 1378.3,159.4 C1379,160.7 1379.8,161.3 1380.7,162 C1381.5,162.7 1382.3,163.4 1383.4,163.8 C1384.5,164.2 1385.9,164.4 1387.2,164.6 C1388.5,164.8 1389.7,164.9 1391,164.7 C1392.3,164.5 1394,163.7 1395,163.2 C1396,162.7 1396.2,162.5 1396.7,161.9 C1397.2,161.3 1397.5,160.2 1397.8,159.5 C1398.1,158.8 1398.2,160.8 1398.4,157.5 C1398.6,154.2 1398.6,148.6 1398.7,140 C1398.8,131.4 1398.9,117.7 1399,106 C1399.1,94.3 1399.2,78.8 1399.3,70 C1399.4,61.1 1399.5,56.3 1399.7,52.9 C1399.9,49.5 1400.2,50 1400.6,49.7 C1401,49.4 1401.3,49.8 1402,50.9 C1402.7,52.1 1403.8,54.1 1404.7,56.6 C1405.6,59.1 1406.7,62.4 1407.5,66 C1408.3,69.6 1409.1,73.9 1409.7,78.2 C1410.3,82.5 1410.6,87.3 1410.9,92 C1411.2,96.7 1411.4,99.8 1411.6,106.1 C1411.8,112.4 1411.9,123.2 1412.1,130 C1412.3,136.8 1412.4,142.9 1412.7,147 C1413,151.1 1413.4,152.4 1414,154.5 C1414.6,156.6 1415.3,158.2 1416.1,159.4 C1416.8,160.7 1417.7,161.3 1418.5,162 C1419.3,162.7 1420.1,163.4 1421.2,163.8 C1422.3,164.2 1423.7,164.4 1425,164.6 C1426.3,164.8 1427.5,164.9 1428.8,164.7 C1430.1,164.5 1431.8,163.7 1432.8,163.2 C1433.8,162.7 1434,162.5 1434.5,161.9 C1435,161.3 1435.3,160.2 1435.6,159.5 C1435.9,158.8 1436,160.8 1436.2,157.5 C1436.4,154.2 1436.4,148.6 1436.5,140 C1436.6,131.4 1436.7,117.7 1436.8,106 C1436.9,94.3 1437,78.8 1437.1,70 C1437.2,61.1 1437.3,56.3 1437.5,52.9 C1437.7,49.5 1438,50 1438.4,49.7 C1438.8,49.4 1439.1,49.8 1439.8,50.9 C1440.5,52.1 1441.6,54.1 1442.5,56.6 C1443.4,59.1 1444.5,62.4 1445.3,66 C1446.1,69.6 1446.9,73.9 1447.5,78.2 C1448.1,82.5 1448.4,87.3 1448.7,92 C1449,96.7 1449.2,99.8 1449.4,106.1 C1449.6,112.4 1449.7,123.2 1449.9,130 C1450.1,136.8 1450.2,142.9 1450.5,147 C1450.8,151.1 1451.2,152.4 1451.8,154.5 C1452.4,156.6 1453.1,158.2 1453.9,159.4 C1454.6,160.7 1455.4,161.3 1456.3,162 C1457.2,162.7 1457.9,163.4 1459,163.8 C1460.1,164.2 1461.5,164.4 1462.8,164.6 C1464.1,164.8 1465.4,164.9 1466.6,164.7 C1467.8,164.5 1469.3,163.7 1470.2,163.2 C1471.1,162.7 1471.4,162.5 1471.9,161.9 C1472.4,161.3 1472.7,160.2 1473,159.5 C1473.3,158.8 1473.4,160.8 1473.6,157.5 C1473.8,154.2 1473.8,148.6 1473.9,140 C1474,131.4 1474.1,117.7 1474.2,106 C1474.3,94.3 1474.4,78.5 1474.5,70 C1474.6,61.5 1474.7,58.1 1474.9,55.1 C1475.1,52.1 1475.4,52.2 1475.8,51.9 C1476.2,51.6 1476.5,52.3 1477.2,53.1 C1477.9,53.9 1479,54.5 1479.9,56.6 C1480.8,58.8 1481.9,62.4 1482.7,66 C1483.5,69.6 1484.3,73.9 1484.9,78.2 C1485.5,82.5 1485.8,87.3 1486.1,92 C1486.4,96.7 1486.6,99.8 1486.8,106.1 C1487,112.4 1487.1,123.2 1487.3,130 C1487.5,136.8 1487.6,142.9 1487.9,147 C1488.2,151.1 1488.6,152.4 1489.2,154.5 C1489.8,156.6 1490.5,158.2 1491.3,159.4 C1492,160.7 1492.8,161.3 1493.7,162 C1494.5,162.7 1495.3,163.4 1496.4,163.8 C1497.5,164.2 1498.9,164.4 1500.2,164.6 C1501.5,164.8 1502.7,164.9 1504,164.7 C1505.3,164.5 1507,163.7 1508,163.2 C1509,162.7 1509.2,162.5 1509.7,161.9 C1510.2,161.3 1510.5,160.2 1510.8,159.5 C1511.1,158.8 1511.2,160.8 1511.4,157.5 C1511.6,154.2 1511.6,148.6 1511.7,140 C1511.8,131.4 1511.9,117.7 1512,106 C1512.1,94.3 1512.2,78.6 1512.3,70 C1512.4,61.4 1512.5,57.5 1512.7,54.3 C1512.9,51.2 1513.2,51.4 1513.6,51.1 C1514,50.8 1514.3,51.4 1515,52.3 C1515.7,53.2 1516.8,54.3 1517.7,56.6 C1518.6,58.9 1519.7,62.4 1520.5,66 C1521.3,69.6 1522.1,73.9 1522.7,78.2 C1523.3,82.5 1523.6,87.3 1523.9,92 C1524.2,96.7 1524.4,99.8 1524.6,106.1 C1524.8,112.4 1524.9,123.2 1525.1,130 C1525.3,136.8 1525.4,142.9 1525.7,147 C1526,151.1 1526.4,152.4 1527,154.5 C1527.6,156.6 1528.3,158.2 1529.1,159.4 C1529.8,160.7 1530.7,161.3 1531.5,162 C1532.3,162.7 1533.1,163.4 1534.2,163.8 C1535.3,164.2 1536.7,164.4 1538,164.6 C1539.3,164.8 1540.6,164.9 1541.8,164.7 C1543,164.5 1544.5,163.7 1545.4,163.2 C1546.3,162.7 1546.6,162.5 1547.1,161.9 C1547.6,161.3 1547.9,160.2 1548.2,159.5 C1548.5,158.8 1548.6,160.8 1548.8,157.5 C1549,154.2 1549,148.6 1549.1,140 C1549.2,131.4 1549.3,117.7 1549.4,106 C1549.5,94.3 1549.6,78.5 1549.7,70 C1549.8,61.5 1549.9,58.1 1550.1,55.1 C1550.3,52.1 1550.6,52.2 1551,51.9 C1551.4,51.6 1551.7,52.3 1552.4,53.1 C1553.1,53.9 1554.2,54.5 1555.1,56.6 C1556,58.8 1557.1,62.4 1557.9,66 C1558.7,69.6 1559.5,73.9 1560.1,78.2 C1560.7,82.5 1561,87.3 1561.3,92 C1561.6,96.7 1561.8,99.8 1562,106.1 C1562.2,112.4 1562.3,123.2 1562.5,130 C1562.7,136.8 1562.8,142.9 1563.1,147 C1563.4,151.1 1563.8,152.4 1564.4,154.5 C1565,156.6 1565.7,158.2 1566.5,159.4 C1567.2,160.7 1568,161.3 1568.9,162 C1569.8,162.7 1570.5,163.4 1571.6,163.8 C1572.7,164.2 1574.1,164.4 1575.4,164.6 C1576.7,164.8 1578.9,164.6 1579.2,164.7 C1579.5,164.8 1577.4,165.1 1577,165.2" fill="none" stroke="#000" stroke-width="2.2" stroke-linejoin="round"/>
<path d="M1006.4,340.8 C1007,340.6 1008.7,340.2 1010,339.6 C1011.3,339 1013.2,338 1014.2,337 C1015.2,336 1015.8,334.9 1016.3,333.5 C1016.8,332.1 1017,331.3 1017.2,328.7 C1017.4,326.1 1017.5,324.4 1017.6,318 C1017.7,311.6 1017.8,303 1017.8,290 C1017.8,277 1017.8,250.2 1017.9,240 C1018,229.8 1018.1,230.7 1018.2,228.5 C1018.3,226.3 1018.4,226.3 1018.7,227 C1019,227.7 1019.6,231 1020.1,232.8 C1020.6,234.6 1021.2,236.2 1021.8,238 C1022.4,239.8 1023.1,241.5 1023.7,243.4 C1024.3,245.3 1024.8,247.3 1025.3,249.5 C1025.8,251.7 1026.2,254 1026.6,256.4 C1027,258.8 1027.5,261.4 1027.8,264 C1028.1,266.6 1028.2,268.3 1028.4,271.8 C1028.6,275.3 1028.8,280.6 1029,285 C1029.2,289.4 1029.4,293.2 1029.6,297.9 C1029.8,302.6 1030,308.1 1030.2,313 C1030.4,317.9 1030.6,323 1030.8,327.5 C1031,332 1031.1,337.3 1031.3,340 C1031.5,342.7 1031.5,343.1 1031.8,343.5 C1032,343.9 1032.3,343 1032.8,342.5 C1033.3,342 1034.1,340.6 1034.9,340.5 C1035.7,340.4 1036.7,341.6 1037.8,341.8 C1038.9,342 1039.8,342.1 1041.4,341.9 C1043,341.7 1045.8,341 1047.2,340.6 C1048.6,340.2 1049,339.9 1049.9,339.3 C1050.8,338.7 1052,337.8 1052.7,337 C1053.4,336.2 1053.7,335.8 1054.1,334.6 C1054.5,333.4 1054.9,332.8 1055.2,330 C1055.5,327.2 1055.8,324.7 1056,318 C1056.2,311.3 1056.2,303 1056.2,290 C1056.2,277 1056.2,250.2 1056.3,240 C1056.4,229.8 1056.5,230.7 1056.6,228.5 C1056.7,226.3 1056.8,226.3 1057.1,227 C1057.4,227.7 1058,231 1058.5,232.8 C1059,234.6 1059.6,236.2 1060.2,238 C1060.8,239.8 1061.5,241.5 1062.1,243.4 C1062.7,245.3 1063.2,247.3 1063.7,249.5 C1064.2,251.7 1064.6,254 1065,256.4 C1065.4,258.8 1065.9,261.4 1066.2,264 C1066.5,266.6 1066.6,268.3 1066.8,271.8 C1067,275.3 1067.2,280.6 1067.4,285 C1067.6,289.4 1067.8,293.2 1068,297.9 C1068.2,302.6 1068.4,308.1 1068.6,313 C1068.8,317.9 1069,323 1069.2,327.5 C1069.4,332 1069.5,337.3 1069.7,340 C1069.9,342.7 1070,343.1 1070.2,343.5 C1070.5,343.9 1070.7,343 1071.2,342.5 C1071.7,342 1072.5,340.6 1073.3,340.5 C1074.1,340.4 1075.1,341.6 1076.2,341.8 C1077.3,342 1078.2,342.1 1079.8,341.9 C1081.4,341.7 1084.4,341 1085.9,340.6 C1087.4,340.2 1087.7,339.9 1088.6,339.3 C1089.5,338.7 1090.7,337.8 1091.4,337 C1092.1,336.2 1092.4,335.8 1092.8,334.6 C1093.2,333.4 1093.6,332.8 1093.9,330 C1094.2,327.2 1094.5,324.7 1094.7,318 C1094.9,311.3 1094.9,303 1094.9,290 C1095,277 1094.9,250.2 1095,240 C1095.1,229.8 1095.2,230.7 1095.3,228.5 C1095.4,226.3 1095.5,226.3 1095.8,227 C1096.1,227.7 1096.7,231 1097.2,232.8 C1097.7,234.6 1098.3,236.2 1098.9,238 C1099.5,239.8 1100.2,241.5 1100.8,243.4 C1101.4,245.3 1101.9,247.3 1102.4,249.5 C1102.9,251.7 1103.3,254 1103.7,256.4 C1104.1,258.8 1104.6,261.4 1104.9,264 C1105.2,266.6 1105.3,268.3 1105.5,271.8 C1105.7,275.3 1105.9,280.6 1106.1,285 C1106.3,289.4 1106.5,293.2 1106.7,297.9 C1106.9,302.6 1107.1,308.1 1107.3,313 C1107.5,317.9 1107.7,323 1107.9,327.5 C1108.1,332 1108.2,337.3 1108.4,340 C1108.6,342.7 1108.7,343.1 1108.9,343.5 C1109.2,343.9 1109.4,343 1109.9,342.5 C1110.4,342 1111.2,340.6 1112,340.5 C1112.8,340.4 1113.8,341.6 1114.9,341.8 C1116,342 1116.8,342.1 1118.5,341.9 C1120.2,341.7 1123.6,341 1125.2,340.6 C1126.8,340.2 1127,339.9 1127.9,339.3 C1128.8,338.7 1130,337.8 1130.7,337 C1131.4,336.2 1131.7,335.8 1132.1,334.6 C1132.5,333.4 1132.9,332.8 1133.2,330 C1133.5,327.2 1133.8,324.7 1134,318 C1134.2,311.3 1134.2,303 1134.2,290 C1134.2,277 1134.2,250.2 1134.3,240 C1134.4,229.8 1134.5,230.7 1134.6,228.5 C1134.7,226.3 1134.8,226.3 1135.1,227 C1135.4,227.7 1136,231 1136.5,232.8 C1137,234.6 1137.6,236.2 1138.2,238 C1138.8,239.8 1139.5,241.5 1140.1,243.4 C1140.7,245.3 1141.2,247.3 1141.7,249.5 C1142.2,251.7 1142.6,254 1143,256.4 C1143.4,258.8 1143.9,261.4 1144.2,264 C1144.5,266.6 1144.6,268.3 1144.8,271.8 C1145,275.3 1145.2,280.6 1145.4,285 C1145.6,289.4 1145.8,293.2 1146,297.9 C1146.2,302.6 1146.4,308.1 1146.6,313 C1146.8,317.9 1147,323 1147.2,327.5 C1147.4,332 1147.5,337.3 1147.7,340 C1147.9,342.7 1148,343.1 1148.2,343.5 C1148.5,343.9 1148.7,343 1149.2,342.5 C1149.7,342 1150.5,340.6 1151.3,340.5 C1152.1,340.4 1153.1,341.6 1154.2,341.8 C1155.3,342 1156,342.1 1157.8,341.9 C1159.6,341.7 1163.3,341 1164.9,340.6 C1166.5,340.2 1166.7,339.9 1167.6,339.3 C1168.5,338.7 1169.7,337.8 1170.4,337 C1171.1,336.2 1171.4,335.8 1171.8,334.6 C1172.2,333.4 1172.6,332.8 1172.9,330 C1173.2,327.2 1173.5,324.7 1173.7,318 C1173.9,311.3 1173.9,303 1173.9,290 C1174,277 1173.9,250.2 1174,240 C1174.1,229.8 1174.2,230.7 1174.3,228.5 C1174.4,226.3 1174.5,226.3 1174.8,227 C1175.1,227.7 1175.7,231 1176.2,232.8 C1176.7,234.6 1177.3,236.2 1177.9,238 C1178.5,239.8 1179.2,241.5 1179.8,243.4 C1180.4,245.3 1180.9,247.3 1181.4,249.5 C1181.9,251.7 1182.3,254 1182.7,256.4 C1183.1,258.8 1183.6,261.4 1183.9,264 C1184.2,266.6 1184.3,268.3 1184.5,271.8 C1184.7,275.3 1184.9,280.6 1185.1,285 C1185.3,289.4 1185.5,293.2 1185.7,297.9 C1185.9,302.6 1186.1,308.1 1186.3,313 C1186.5,317.9 1186.7,323 1186.9,327.5 C1187.1,332 1187.2,337.3 1187.4,340 C1187.6,342.7 1187.7,343.1 1187.9,343.5 C1188.2,343.9 1188.4,343 1188.9,342.5 C1189.4,342 1190.2,340.6 1191,340.5 C1191.8,340.4 1192.8,341.6 1193.9,341.8 C1195,342 1195.5,342.1 1197.5,341.9 C1199.5,341.7 1203.8,341 1205.6,340.6 C1207.4,340.2 1207.4,339.9 1208.3,339.3 C1209.2,338.7 1210.4,337.8 1211.1,337 C1211.8,336.2 1212.1,335.8 1212.5,334.6 C1212.9,333.4 1213.3,332.8 1213.6,330 C1213.9,327.2 1214.2,324.7 1214.4,318 C1214.6,311.3 1214.5,303 1214.6,290 C1214.6,277 1214.6,250.2 1214.7,240 C1214.8,229.8 1214.9,230.7 1215,228.5 C1215.1,226.3 1215.2,226.3 1215.5,227 C1215.8,227.7 1216.4,231 1216.9,232.8 C1217.4,234.6 1218,236.2 1218.6,238 C1219.2,239.8 1219.9,241.5 1220.5,243.4 C1221.1,245.3 1221.6,247.3 1222.1,249.5 C1222.6,251.7 1223,254 1223.4,256.4 C1223.8,258.8 1224.3,261.4 1224.6,264 C1224.9,266.6 1225,268.3 1225.2,271.8 C1225.4,275.3 1225.6,280.6 1225.8,285 C1226,289.4 1226.2,293.2 1226.4,297.9 C1226.6,302.6 1226.8,308.1 1227,313 C1227.2,317.9 1227.4,323 1227.6,327.5 C1227.8,332 1227.9,337.3 1228.1,340 C1228.3,342.7 1228.3,343.1 1228.6,343.5 C1228.8,343.9 1229.1,343 1229.6,342.5 C1230.1,342 1230.9,340.6 1231.7,340.5 C1232.5,340.4 1233.5,341.6 1234.6,341.8 C1235.7,342 1236.2,342.1 1238.2,341.9 C1240.2,341.7 1244.9,341 1246.8,340.6 C1248.7,340.2 1248.6,339.9 1249.5,339.3 C1250.4,338.7 1251.6,337.8 1252.3,337 C1253,336.2 1253.3,335.8 1253.7,334.6 C1254.1,333.4 1254.5,332.8 1254.8,330 C1255.1,327.2 1255.4,324.7 1255.6,318 C1255.8,311.3 1255.8,303 1255.8,290 C1255.8,277 1255.8,250.2 1255.9,240 C1256,229.8 1256.1,230.7 1256.2,228.5 C1256.3,226.3 1256.4,226.3 1256.7,227 C1257,227.7 1257.6,231 1258.1,232.8 C1258.6,234.6 1259.2,236.2 1259.8,238 C1260.4,239.8 1261.1,241.5 1261.7,243.4 C1262.3,245.3 1262.8,247.3 1263.3,249.5 C1263.8,251.7 1264.2,254 1264.6,256.4 C1265,258.8 1265.5,261.4 1265.8,264 C1266.1,266.6 1266.2,268.3 1266.4,271.8 C1266.6,275.3 1266.8,280.6 1267,285 C1267.2,289.4 1267.4,293.2 1267.6,297.9 C1267.8,302.6 1268,308.1 1268.2,313 C1268.4,317.9 1268.6,323 1268.8,327.5 C1269,332 1269.1,337.3 1269.3,340 C1269.5,342.7 1269.5,343.1 1269.8,343.5 C1270,343.9 1270.3,343 1270.8,342.5 C1271.3,342 1272.1,340.6 1272.9,340.5 C1273.7,340.4 1274.7,341.6 1275.8,341.8 C1276.9,342 1277.3,342.1 1279.4,341.9 C1281.5,341.7 1286.4,341 1288.3,340.6 C1290.2,340.2 1290.1,339.9 1291,339.3 C1291.9,338.7 1293.1,337.8 1293.8,337 C1294.5,336.2 1294.8,335.8 1295.2,334.6 C1295.6,333.4 1296,332.8 1296.3,330 C1296.6,327.2 1296.9,324.7 1297.1,318 C1297.3,311.3 1297.2,303 1297.3,290 C1297.3,277 1297.3,250.2 1297.4,240 C1297.5,229.8 1297.6,230.7 1297.7,228.5 C1297.8,226.3 1297.9,226.3 1298.2,227 C1298.5,227.7 1299.1,231 1299.6,232.8 C1300.1,234.6 1300.7,236.2 1301.3,238 C1301.9,239.8 1302.6,241.5 1303.2,243.4 C1303.8,245.3 1304.3,247.3 1304.8,249.5 C1305.3,251.7 1305.7,254 1306.1,256.4 C1306.5,258.8 1307,261.4 1307.3,264 C1307.6,266.6 1307.7,268.3 1307.9,271.8 C1308.1,275.3 1308.3,280.6 1308.5,285 C1308.7,289.4 1308.9,293.2 1309.1,297.9 C1309.3,302.6 1309.5,308.1 1309.7,313 C1309.9,317.9 1310.1,323 1310.3,327.5 C1310.5,332 1310.6,337.3 1310.8,340 C1311,342.7 1311,343.1 1311.3,343.5 C1311.5,343.9 1311.8,343 1312.3,342.5 C1312.8,342 1313.6,340.6 1314.4,340.5 C1315.2,340.4 1316.2,341.6 1317.3,341.8 C1318.4,342 1318.6,342.1 1320.9,341.9 C1323.2,341.7 1328.8,341 1330.9,340.6 C1333,340.2 1332.7,339.9 1333.6,339.3 C1334.5,338.7 1335.7,337.8 1336.4,337 C1337.1,336.2 1337.4,335.8 1337.8,334.6 C1338.2,333.4 1338.6,332.8 1338.9,330 C1339.2,327.2 1339.5,324.7 1339.7,318 C1339.9,311.3 1339.9,303 1339.9,290 C1340,277 1339.9,250.2 1340,240 C1340.1,229.8 1340.2,230.7 1340.3,228.5 C1340.4,226.3 1340.5,226.3 1340.8,227 C1341.1,227.7 1341.7,231 1342.2,232.8 C1342.7,234.6 1343.3,236.2 1343.9,238 C1344.5,239.8 1345.2,241.5 1345.8,243.4 C1346.4,245.3 1346.9,247.3 1347.4,249.5 C1347.9,251.7 1348.3,254 1348.7,256.4 C1349.1,258.8 1349.6,261.4 1349.9,264 C1350.2,266.6 1350.3,268.3 1350.5,271.8 C1350.7,275.3 1350.9,280.6 1351.1,285 C1351.3,289.4 1351.5,293.2 1351.7,297.9 C1351.9,302.6 1352.1,308.1 1352.3,313 C1352.5,317.9 1352.7,323 1352.9,327.5 C1353.1,332 1353.2,337.3 1353.4,340 C1353.6,342.7 1353.7,343.1 1353.9,343.5 C1354.2,343.9 1354.4,343 1354.9,342.5 C1355.4,342 1356.2,340.6 1357,340.5 C1357.8,340.4 1358.8,341.6 1359.9,341.8 C1361,342 1361.2,342.1 1363.5,341.9 C1365.8,341.7 1371.4,341 1373.5,340.6 C1375.6,340.2 1375.3,339.9 1376.2,339.3 C1377.1,338.7 1378.3,337.8 1379,337 C1379.7,336.2 1380,335.8 1380.4,334.6 C1380.8,333.4 1381.2,332.8 1381.5,330 C1381.8,327.2 1382.1,324.7 1382.3,318 C1382.5,311.3 1382.5,303 1382.5,290 C1382.5,277 1382.5,250.2 1382.6,240 C1382.7,229.8 1382.8,230.7 1382.9,228.5 C1383,226.3 1383.1,226.3 1383.4,227 C1383.7,227.7 1384.3,231 1384.8,232.8 C1385.3,234.6 1385.9,236.2 1386.5,238 C1387.1,239.8 1387.8,241.5 1388.4,243.4 C1389,245.3 1389.5,247.3 1390,249.5 C1390.5,251.7 1390.9,254 1391.3,256.4 C1391.7,258.8 1392.2,261.4 1392.5,264 C1392.8,266.6 1392.9,268.3 1393.1,271.8 C1393.3,275.3 1393.5,280.6 1393.7,285 C1393.9,289.4 1394.1,293.2 1394.3,297.9 C1394.5,302.6 1394.7,308.1 1394.9,313 C1395.1,317.9 1395.3,323 1395.5,327.5 C1395.7,332 1395.8,337.3 1396,340 C1396.2,342.7 1396.2,343.1 1396.5,343.5 C1396.8,343.9 1397,343 1397.5,342.5 C1398,342 1398.8,340.6 1399.6,340.5 C1400.4,340.4 1401.4,341.6 1402.5,341.8 C1403.6,342 1403.7,342.1 1406.1,341.9 C1408.5,341.7 1414.6,341 1416.8,340.6 C1419,340.2 1418.6,339.9 1419.5,339.3 C1420.4,338.7 1421.6,337.8 1422.3,337 C1423,336.2 1423.3,335.8 1423.7,334.6 C1424.1,333.4 1424.5,332.8 1424.8,330 C1425.1,327.2 1425.4,324.7 1425.6,318 C1425.8,311.3 1425.8,303 1425.8,290 C1425.8,277 1425.8,250.2 1425.9,240 C1426,229.8 1426.1,230.7 1426.2,228.5 C1426.3,226.3 1426.4,226.3 1426.7,227 C1427,227.7 1427.6,231 1428.1,232.8 C1428.6,234.6 1429.2,236.2 1429.8,238 C1430.4,239.8 1431.1,241.5 1431.7,243.4 C1432.3,245.3 1432.8,247.3 1433.3,249.5 C1433.8,251.7 1434.2,254 1434.6,256.4 C1435,258.8 1435.5,261.4 1435.8,264 C1436.1,266.6 1436.2,268.3 1436.4,271.8 C1436.6,275.3 1436.8,280.6 1437,285 C1437.2,289.4 1437.4,293.2 1437.6,297.9 C1437.8,302.6 1438,308.1 1438.2,313 C1438.4,317.9 1438.6,323 1438.8,327.5 C1439,332 1439.1,337.3 1439.3,340 C1439.5,342.7 1439.5,343.1 1439.8,343.5 C1440,343.9 1440.3,343 1440.8,342.5 C1441.3,342 1442.1,340.6 1442.9,340.5 C1443.7,340.4 1444.7,341.6 1445.8,341.8 C1446.9,342 1447.1,342.1 1449.4,341.9 C1451.7,341.7 1457.6,341 1459.8,340.6 C1462,340.2 1461.6,339.9 1462.5,339.3 C1463.4,338.7 1464.6,337.8 1465.3,337 C1466,336.2 1466.3,335.8 1466.7,334.6 C1467.1,333.4 1467.5,332.8 1467.8,330 C1468.1,327.2 1468.4,324.7 1468.6,318 C1468.8,311.3 1468.8,303 1468.8,290 C1468.8,277 1468.8,250.2 1468.9,240 C1469,229.8 1469.1,230.7 1469.2,228.5 C1469.3,226.3 1469.4,226.3 1469.7,227 C1470,227.7 1470.6,231 1471.1,232.8 C1471.6,234.6 1472.2,236.2 1472.8,238 C1473.4,239.8 1474.1,241.5 1474.7,243.4 C1475.3,245.3 1475.8,247.3 1476.3,249.5 C1476.8,251.7 1477.2,254 1477.6,256.4 C1478,258.8 1478.5,261.4 1478.8,264 C1479.1,266.6 1479.2,268.3 1479.4,271.8 C1479.6,275.3 1479.8,280.6 1480,285 C1480.2,289.4 1480.4,293.2 1480.6,297.9 C1480.8,302.6 1481,308.1 1481.2,313 C1481.4,317.9 1481.6,323 1481.8,327.5 C1482,332 1482.1,337.3 1482.3,340 C1482.5,342.7 1482.5,343.1 1482.8,343.5 C1483,343.9 1483.3,343 1483.8,342.5 C1484.3,342 1485.1,340.6 1485.9,340.5 C1486.7,340.4 1487.7,341.6 1488.8,341.8 C1489.9,342 1489.9,342.1 1492.4,341.9 C1494.9,341.7 1501.5,341 1503.9,340.6 C1506.3,340.2 1505.7,339.9 1506.6,339.3 C1507.5,338.7 1508.7,337.8 1509.4,337 C1510.1,336.2 1510.4,335.8 1510.8,334.6 C1511.2,333.4 1511.6,332.8 1511.9,330 C1512.2,327.2 1512.5,324.7 1512.7,318 C1512.9,311.3 1512.9,303 1512.9,290 C1513,277 1512.9,250.2 1513,240 C1513.1,229.8 1513.2,230.7 1513.3,228.5 C1513.4,226.3 1513.5,226.3 1513.8,227 C1514.1,227.7 1514.7,231 1515.2,232.8 C1515.7,234.6 1516.3,236.2 1516.9,238 C1517.5,239.8 1518.2,241.5 1518.8,243.4 C1519.4,245.3 1519.9,247.3 1520.4,249.5 C1520.9,251.7 1521.3,254 1521.7,256.4 C1522.1,258.8 1522.6,261.4 1522.9,264 C1523.2,266.6 1523.3,268.3 1523.5,271.8 C1523.7,275.3 1523.9,280.6 1524.1,285 C1524.3,289.4 1524.5,293.2 1524.7,297.9 C1524.9,302.6 1525.1,308.1 1525.3,313 C1525.5,317.9 1525.7,323 1525.9,327.5 C1526.1,332 1526.2,337.3 1526.4,340 C1526.6,342.7 1526.7,343.1 1526.9,343.5 C1527.2,343.9 1527.4,343 1527.9,342.5 C1528.4,342 1529.2,340.6 1530,340.5 C1530.8,340.4 1531.8,341.6 1532.9,341.8 C1534,342 1534,342.1 1536.5,341.9 C1539,341.7 1545.4,341 1547.7,340.6 C1550,340.2 1549.5,339.9 1550.4,339.3 C1551.3,338.7 1552.5,337.8 1553.2,337 C1553.9,336.2 1554.2,335.8 1554.6,334.6 C1555,333.4 1555.4,332.8 1555.7,330 C1556,327.2 1556.3,324.7 1556.5,318 C1556.7,311.3 1556.7,303 1556.7,290 C1556.8,277 1556.7,250.2 1556.8,240 C1556.9,229.8 1557,230.7 1557.1,228.5 C1557.2,226.3 1557.3,226.3 1557.6,227 C1557.9,227.7 1558.5,231 1559,232.8 C1559.5,234.6 1560.1,236.2 1560.7,238 C1561.3,239.8 1562,241.5 1562.6,243.4 C1563.2,245.3 1563.7,247.3 1564.2,249.5 C1564.7,251.7 1565.1,254 1565.5,256.4 C1565.9,258.8 1566.4,261.4 1566.7,264 C1567,266.6 1567.1,268.3 1567.3,271.8 C1567.5,275.3 1567.7,280.6 1567.9,285 C1568.1,289.4 1568.3,293.2 1568.5,297.9 C1568.7,302.6 1568.9,308.1 1569.1,313 C1569.3,317.9 1569.5,323 1569.7,327.5 C1569.9,332 1570,337.3 1570.2,340 C1570.4,342.7 1570.5,343.1 1570.7,343.5 C1571,343.9 1571.6,342.6 1571.7,342.5 C1571.8,342.4 1571.5,342.9 1571.5,343" fill="none" stroke="#0000ff" stroke-width="2.2" stroke-linejoin="round"/>
<path d="M1006.4,456.3 1024.5,456.3 1025.1,461.5 1026.2,461.2 1027.7,459.4 1029.7,457.2 1032.2,455.3 1034.7,453.8 1036.5,452.3 1037.4,449.5 1038.2,448.8 1039,450.5 1040.2,454.5 1042.2,456.6 1045.2,457.2 1054.2,456.8 1075.6,456.3 1076.2,461.5 1077.3,461.2 1078.8,459.4 1080.8,457.2 1083.3,455.3 1085.8,453.8 1087.6,452.3 1088.5,449.5 1089.3,448.8 1090.1,450.5 1091.3,454.5 1093.3,456.6 1096.3,457.2 1105.3,456.8 1126.4,456.3 1127,461.5 1128.1,461.2 1129.6,459.4 1131.6,457.2 1134.1,455.3 1136.6,453.8 1138.4,452.3 1139.3,449.5 1140.1,448.8 1140.9,450.5 1142.1,454.5 1144.1,456.6 1147.1,457.2 1156.1,456.8 1177.1,456.3 1177.7,461.5 1178.8,461.2 1180.3,459.4 1182.3,457.2 1184.8,455.3 1187.3,453.8 1189.1,452.3 1190,449.5 1190.8,448.8 1191.6,450.5 1192.8,454.5 1194.8,456.6 1197.8,457.2 1206.8,456.8 1227.9,456.3 1228.5,461.5 1229.6,461.2 1231.1,459.4 1233.1,457.2 1235.6,455.3 1238.1,453.8 1239.9,452.3 1240.8,449.5 1241.6,448.8 1242.4,450.5 1243.6,454.5 1245.6,456.6 1248.6,457.2 1257.6,456.8 1278.7,456.3 1279.3,461.5 1280.4,461.2 1281.9,459.4 1283.9,457.2 1286.4,455.3 1288.9,453.8 1290.7,452.3 1291.6,449.5 1292.4,448.8 1293.2,450.5 1294.4,454.5 1296.4,456.6 1299.4,457.2 1308.4,456.8 1329.4,456.3 1330,461.5 1331.1,461.2 1332.6,459.4 1334.6,457.2 1337.1,455.3 1339.6,453.8 1341.4,452.3 1342.3,449.5 1343.1,448.8 1343.9,450.5 1345.1,454.5 1347.1,456.6 1350.1,457.2 1359.1,456.8 1379.8,456.3 1380.4,461.5 1381.5,461.2 1383,459.4 1385,457.2 1387.5,455.3 1390,453.8 1391.8,452.3 1392.7,449.5 1393.5,448.8 1394.3,450.5 1395.5,454.5 1397.5,456.6 1400.5,457.2 1409.5,456.8 1430.2,456.3 1430.8,461.5 1431.9,461.2 1433.4,459.4 1435.4,457.2 1437.9,455.3 1440.4,453.8 1442.2,452.3 1443.1,449.5 1443.9,448.8 1444.7,450.5 1445.9,454.5 1447.9,456.6 1450.9,457.2 1459.9,456.8 1481,456.3 1481.6,461.5 1482.7,461.2 1484.2,459.4 1486.2,457.2 1488.7,455.3 1491.2,453.8 1493,452.3 1493.9,449.5 1494.7,448.8 1495.5,450.5 1496.7,454.5 1498.7,456.6 1501.7,457.2 1510.7,456.8 1531,456.3 1531.6,461.5 1532.7,461.2 1534.2,459.4 1536.2,457.2 1538.7,455.3 1541.2,453.8 1543,452.3 1543.9,449.5 1544.7,448.8 1545.5,450.5 1546.7,454.5 1548.7,456.6 1551.7,457.2 1560.7,456.8 1571.5,456.4" fill="none" stroke="#c80000" stroke-width="2.8" stroke-linejoin="round"/>
<line x1="1024.2" y1="385.2" x2="1024.2" y2="527.9" stroke="#c80000" stroke-width="1.8"/>
<line x1="1075.3" y1="385.2" x2="1075.3" y2="527.9" stroke="#c80000" stroke-width="1.8"/>
<line x1="1126.1" y1="385.2" x2="1126.1" y2="527.9" stroke="#c80000" stroke-width="1.8"/>
<line x1="1176.8" y1="385.2" x2="1176.8" y2="527.9" stroke="#c80000" stroke-width="1.8"/>
<line x1="1227.6" y1="385.2" x2="1227.6" y2="527.9" stroke="#c80000" stroke-width="1.8"/>
<line x1="1278.4" y1="385.2" x2="1278.4" y2="527.9" stroke="#c80000" stroke-width="1.8"/>
<line x1="1329.1" y1="385.2" x2="1329.1" y2="527.9" stroke="#c80000" stroke-width="1.8"/>
<line x1="1379.5" y1="385.2" x2="1379.5" y2="527.9" stroke="#c80000" stroke-width="1.8"/>
<line x1="1429.9" y1="385.2" x2="1429.9" y2="527.9" stroke="#c80000" stroke-width="1.8"/>
<line x1="1480.7" y1="385.2" x2="1480.7" y2="527.9" stroke="#c80000" stroke-width="1.8"/>
<line x1="1530.7" y1="385.2" x2="1530.7" y2="527.9" stroke="#c80000" stroke-width="1.8"/>
<text transform="translate(899.1,148) scale(1,1.035)" font-size="24.5">0.5 <tspan font-family="Liberation Serif, serif">µ</tspan>A</text>
<text transform="translate(885.9,178.9) scale(1,1.035)" font-size="24.5">12.5 mV</text>
<path d="M985.3,136.6 H994.1 M989.7,136.6 V165.4 M985.3,165.4 H994.1" fill="none" stroke="#000" stroke-width="1.8"/>
<text transform="translate(889.2,461.9) scale(1,1.035)" font-size="24.8" fill="#c80000">0.2 mV</text>
<path d="M982.1,445 H990.9 M986.5,445 V462.8 M982.1,462.8 H990.9" fill="none" stroke="#ff0000" stroke-width="1.8"/>
<path d="M982.1,315 H990.9 M986.5,315 V337 M982.1,337 H990.9" fill="none" stroke="#0000ff" stroke-width="1.8"/>
<text transform="translate(893.5,336.1) scale(1,1.035)" font-size="24.8" fill="#0000ff">20 mV</text>
<path d="M1021.9,537 V544.5 M1021.9,540.8 H1078.6 M1078.6,537 V544.5" fill="none" stroke="#000" stroke-width="1.6"/>
<text transform="translate(1027.3,579.7) scale(1,1.035)" font-size="25.8">2 s</text>
<text transform="translate(1626.8,126.9) scale(1,1.035)" font-size="24.5">0.5 <tspan font-family="Liberation Serif, serif">µ</tspan>A</text>
<text transform="translate(1613.6,155.7) scale(1,1.035)" font-size="24.5">12.5 mV</text>
<path d="M1718.9,123.5 H1727.7 M1723.3,123.5 V150 M1718.9,150 H1727.7" fill="none" stroke="#000" stroke-width="1.8"/>
<text transform="translate(1632.6,320.7) scale(1,1.035)" font-size="24.5" fill="#0000ff">20 mV</text>
<path d="M1720.5,300.5 H1729.3 M1724.9,300.5 V321.3 M1720.5,321.3 H1729.3" fill="none" stroke="#0000ff" stroke-width="1.8"/>
<text transform="translate(1633.8,434) scale(1,1.035)" font-size="24.5" fill="#c80000">0.2 mV</text>
<path d="M1723.4,419 H1732.2 M1727.8,419 V435.4 M1723.4,435.4 H1732.2" fill="none" stroke="#ff0000" stroke-width="1.8"/>
<path d="M1784.5,514 V522 M1784.5,518.4 H1808.7 M1808.7,514 V522" fill="none" stroke="#000" stroke-width="1.6"/>
<text transform="translate(1757.1,554.4) scale(1,1.035)" font-size="24.5">100 ms</text>
<path d="M1648.7,165.6 1650.4,165.6 1652.1,165.6 1653.8,165.6 1655.5,165.6 1657.2,165.6 1658.8,165.5 1660.5,165.5 1662.2,165.5 1663.9,165.5 1665.5,165.5 1667.2,165.5 1668.9,165.5 1670.5,165.5 1672.2,165.5 1673.8,165.5 1675.5,165.5 1677.1,165.5 1678.8,165.4 1680.4,165.4 1682,165.4 1683.7,165.4 1685.3,165.4 1687,165.4 1688.6,165.4 1690.2,165.3 1691.9,165.3 1693.5,165.3 1695.1,165.3 1696.8,165.2 1698.4,165.2 1700,165.2 1701.7,165.2 1703.3,165.1 1704.9,165.1 1706.6,165 1708.2,165 1709.9,165 1711.5,164.9 1713.1,164.9 1714.8,164.8 1716.4,164.8 1718.1,164.7 1719.7,164.7 1721.4,164.6 1723,164.5 1724.7,164.5 1726.4,164.4 1728,164.3 1729.7,164.2 1731.4,164.1 1733,164.1 1734.7,164 1736.4,163.9 1738.1,163.8 1739.8,163.7 1741.5,163.5 1743.2,163.4 1744.8,163.2 1746.5,162.9 1748.1,162.5 1749.7,162 1751.2,161.3 1752.7,160.5 1754,159.5 1755.2,158.3 1756.1,157 1756.8,155.6 1757.2,154 1757.4,152.4 1757.6,150.7 1757.7,149 1757.8,147.3 1757.9,145.7 1758,144 1758.1,142.3 1758.1,140.6 1758.2,139 1758.2,137.3 1758.2,135.6 1758.3,133.9 1758.3,132.3 1758.3,130.6 1758.3,128.9 1758.3,127.3 1758.3,125.6 1758.4,124 1758.4,122.3 1758.4,120.7 1758.5,119 1758.5,117.4 1758.6,115.7 1758.6,114.1 1758.7,112.5 1758.7,110.8 1758.8,109.2 1758.9,107.6 1759,106 1759,104.3 1759.1,102.7 1759.2,101.1 1759.2,99.4 1759.3,97.8 1759.3,96.1 1759.4,94.5 1759.4,92.8 1759.5,91.2 1759.5,89.5 1759.5,87.8 1759.5,86.1 1759.5,84.4 1759.5,82.7 1759.4,81 1759.4,79.3 1759.3,77.6 1759.3,75.9 1759.2,74.1 1759.3,72.4 1759.3,70.8 1759.5,69.1 1759.7,67.5 1760.1,65.9 1760.5,64.4 1761.1,62.9 1761.9,61.6 1762.9,60.3 1764.1,59.4 1765.6,58.9 1767.2,58.6 1768.9,58.5 1770.6,58.4 1772.3,58.5 1774,58.6 1775.6,58.8 1777.3,59.1 1778.9,59.4 1780.5,59.8 1782.1,60.2 1783.7,60.7 1785.3,61.1 1786.9,61.6 1788.5,62.1 1790.1,62.6 1791.7,63.1 1793.3,63.6 1794.9,64.1 1796.4,64.6 1798,65.1 1799.6,65.6 1801.2,66.1 1802.7,66.6 1804.3,67.1 1805.9,67.6 1807.4,68.2 1809,68.7 1810.5,69.2 1812.1,69.8 1813.6,70.4 1815.1,71 1816.7,71.5 1818.2,72.2 1819.7,72.8 1821.3,73.4 1822.8,74.1 1824.3,74.7 1825.8,75.4 1827.3,76.1 1828.8,76.8 1830.3,77.6 1831.8,78.4 1833.3,79.2 1834.8,80 1836.2,80.8 1837.7,81.7 1839.1,82.6 1840.5,83.5 1841.8,84.5 1843.2,85.4 1844.5,86.5 1845.7,87.5 1846.9,88.6 1848.1,89.7 1849.3,90.9 1850.4,92.1 1851.4,93.4 1852.4,94.7 1853.3,96 1854.2,97.4 1855,98.8 1855.7,100.3 1856.4,101.8 1857,103.4 1857.6,105 1858.1,106.6 1858.6,108.2 1859.1,109.9 1859.5,111.5 1859.9,113.2 1860.3,114.8 1860.7,116.4 1861.1,118 1861.5,119.6 1861.9,121.2 1862.3,122.7 1862.7,124.2 1863.1,125.8 1863.5,127.3 1863.8,128.9 1864.2,130.4 1864.6,132 1864.9,133.7 1865.2,135.3 1865.5,137 1865.8,138.8 1866.1,140.5 1866.5,142.3 1866.9,144 1867.3,145.7 1867.8,147.3 1868.5,148.8 1869.3,150.2 1870.2,151.5 1871.3,152.6 1872.5,153.5 1873.9,154.3 1875.3,155.1 1876.8,155.7 1878.4,156.3 1880,156.8 1881.6,157.4 1883.2,157.8 1884.8,158.3 1886.4,158.7 1888,159.2 1889.6,159.6 1891.2,159.9 1892.9,160.3 1894.5,160.6 1896.1,160.9 1897.7,161.2 1899.4,161.5 1901,161.8 1902.6,162 1904.3,162.2 1905.9,162.5 1907.6,162.7 1909.2,162.8 1910.9,163 1912.5,163.2 1914.2,163.3 1915.8,163.4 1917.5,163.5 1919.1,163.6 1920.8,163.7 1922.4,163.8 1924.1,163.9 1925.8,163.9 1927.4,164 1929.1,164 1930.7,164.1 1932.4,164.1 1934.1,164.1 1935.7,164.1 1937.4,164.1 1939.1,164.1 1940.7,164.1 1942.4,164.1 1944.1,164.1 1945.7,164.1 1947.4,164.1 1949.1,164.1 1950.7,164.1 1952.4,164 1954.1,164 1955.7,164 1957.4,164 1959.1,164 1960.7,164 1962.4,163.9 1964,163.9 1965.7,163.9 1967.4,163.9 1969,163.9 1970.7,163.9 1972.3,164 1974,164 1975.7,164 1977.3,164 1979,164.1 1980.6,164.1 1982.3,164.2 1983.9,164.3 1985.5,164.3 1987.2,164.4 1988.8,164.5 1990.5,164.6 1992.1,164.8 1993.7,164.9 1995.4,165 1997,165.2" fill="none" stroke="#000" stroke-width="2.2" stroke-linejoin="round"/>
<path d="M1646.1,335.8 1647.7,335.7 1649.4,335.5 1651,335.4 1652.7,335.3 1654.3,335.2 1656,335.2 1657.6,335.1 1659.3,335 1660.9,335 1662.6,334.9 1664.2,334.9 1665.9,334.8 1667.5,334.8 1669.2,334.7 1670.8,334.7 1672.5,334.7 1674.1,334.7 1675.8,334.6 1677.4,334.6 1679.1,334.6 1680.7,334.6 1682.4,334.6 1684.1,334.6 1685.7,334.5 1687.4,334.5 1689,334.5 1690.7,334.5 1692.3,334.5 1694,334.4 1695.6,334.4 1697.3,334.4 1698.9,334.3 1700.6,334.3 1702.2,334.2 1703.9,334.2 1705.5,334.1 1707.2,334 1708.8,333.9 1710.5,333.8 1712.1,333.7 1713.8,333.6 1715.4,333.5 1717.1,333.4 1718.7,333.2 1720.4,333.1 1722,332.9 1723.6,332.7 1725.3,332.5 1726.9,332.3 1728.6,332.1 1730.2,331.8 1731.8,331.6 1733.5,331.3 1735.1,331 1736.7,330.7 1738.3,330.4 1740,330.1 1741.6,329.7 1743.2,329.3 1744.8,328.9 1746.4,328.5 1748.1,328.1 1749.7,327.6 1751.3,327.1 1752.8,326.5 1754.3,325.8 1755.5,324.8 1756.5,323.5 1757.4,322 1758.1,320.5 1758.6,319 1759,317.4 1759.3,315.8 1759.5,314.2 1759.6,312.6 1759.7,310.9 1759.7,309.2 1759.7,307.6 1759.7,305.9 1759.7,304.2 1759.7,302.5 1759.7,300.9 1759.7,299.2 1759.7,297.6 1759.7,295.9 1759.8,294.2 1759.8,292.6 1759.9,290.9 1759.9,289.3 1760,287.6 1760,286 1760.1,284.3 1760.1,282.7 1760.2,281.1 1760.3,279.4 1760.3,277.8 1760.4,276.1 1760.4,274.5 1760.5,272.8 1760.5,271.2 1760.6,269.5 1760.6,267.9 1760.7,266.2 1760.7,264.6 1760.7,262.9 1760.7,261.3 1760.7,259.6 1760.7,258 1760.7,256.3 1760.7,254.7 1760.7,253 1760.7,251.3 1760.8,249.7 1760.8,248 1760.9,246.4 1760.9,244.7 1761,243.1 1761.1,241.4 1761.2,239.7 1761.4,238.1 1761.6,236.4 1761.8,234.8 1762,233.1 1762.3,231.5 1762.7,230.1 1763.8,229.4 1765.3,229.5 1766.9,229.9 1768.5,230.5 1770.1,231.2 1771.7,231.9 1773.2,232.6 1774.8,233.3 1776.3,234 1777.8,234.7 1779.3,235.4 1780.8,236.1 1782.3,236.8 1783.8,237.5 1785.3,238.3 1786.7,239 1788.2,239.7 1789.7,240.4 1791.1,241.1 1792.6,241.8 1794.1,242.6 1795.5,243.3 1797,244 1798.5,244.7 1799.9,245.4 1801.4,246.1 1802.9,246.8 1804.4,247.6 1805.9,248.3 1807.4,249 1808.9,249.7 1810.3,250.4 1811.8,251.2 1813.3,251.9 1814.8,252.7 1816.3,253.4 1817.8,254.2 1819.2,255 1820.7,255.8 1822.1,256.6 1823.6,257.4 1825,258.3 1826.4,259.1 1827.9,260 1829.3,260.9 1830.6,261.8 1832,262.8 1833.4,263.7 1834.7,264.7 1836,265.7 1837.3,266.7 1838.6,267.8 1839.8,268.9 1841.1,270 1842.3,271.1 1843.4,272.3 1844.5,273.4 1845.6,274.6 1846.7,275.9 1847.7,277.1 1848.7,278.4 1849.7,279.7 1850.6,281.1 1851.4,282.5 1852.2,283.9 1853,285.3 1853.7,286.8 1854.4,288.3 1855,289.8 1855.6,291.4 1856.1,293 1856.6,294.6 1857,296.3 1857.5,297.9 1857.9,299.6 1858.3,301.2 1858.6,302.9 1859,304.5 1859.4,306.2 1859.8,307.8 1860.2,309.4 1860.6,310.9 1861,312.5 1861.5,314 1861.9,315.5 1862.4,317.1 1862.9,318.6 1863.4,320.1 1864,321.6 1864.5,323.2 1865.1,324.7 1865.6,326.3 1866.2,328 1866.8,329.6 1867.4,331.3 1868.1,333 1868.9,334.4 1869.8,335.7 1871,336.6 1872.4,337.2 1874.1,337.3 1875.8,337.3 1877.5,337.2 1879.2,337 1880.9,336.8 1882.5,336.7 1884.1,336.4 1885.8,336.2 1887.4,336 1889,335.8 1890.6,335.7 1892.3,335.5 1893.9,335.4 1895.5,335.3 1897.1,335.1 1898.8,335.1 1900.4,335 1902.1,334.9 1903.7,334.9 1905.3,334.8 1907,334.8 1908.6,334.8 1910.3,334.8 1911.9,334.8 1913.6,334.8 1915.2,334.8 1916.9,334.9 1918.5,334.9 1920.2,335 1921.9,335 1923.5,335.1 1925.2,335.2 1926.8,335.2 1928.5,335.3 1930.2,335.4 1931.8,335.5 1933.5,335.6 1935.2,335.7 1936.8,335.8 1938.5,335.9 1940.1,336 1941.8,336.1 1943.5,336.2 1945.1,336.2 1946.8,336.3 1948.5,336.4 1950.1,336.5 1951.8,336.6 1953.5,336.7 1955.1,336.7 1956.8,336.8 1958.4,336.9 1960.1,336.9 1961.8,337 1963.4,337 1965.1,337.1 1966.7,337.1 1968.4,337.1 1970,337.1 1971.7,337.1 1973.3,337.1 1975,337.1 1976.6,337 1978.3,337 1979.9,336.9 1981.6,336.8 1983.2,336.7 1984.8,336.6 1986.5,336.5 1988.1,336.3 1989.7,336.2 1991.4,336 1993,335.8 1994.6,335.6" fill="none" stroke="#0000ff" stroke-width="2.2" stroke-linejoin="round"/>
<path d="M1646.1,450.5 1700,450.3 1759,449.9 1760.5,449.5 1761.5,455.5 1764,455.6 1769,455.2 1788.9,452.4 1818.7,448.5 1840,447.3 1858.4,446.5 1866,445.8 1870.4,445.1 1874,443.5 1876.3,443.1 1878,443.8 1880.3,445.5 1883,447.7 1886.3,449.1 1900,450 1918.1,450.5 1994.6,450.9" fill="none" stroke="#c80000" stroke-width="2.6" stroke-linejoin="round"/>
<line x1="1761" y1="370.9" x2="1761" y2="503.1" stroke="#c80000" stroke-width="1.8"/>
<text transform="translate(-1.2,634.7) scale(1,1.035)" font-size="40">(c)</text>
<line x1="139" y1="1093.9" x2="148" y2="1093.9" stroke="#000" stroke-width="2"/>
<line x1="720.5" y1="1093.9" x2="711.5" y2="1093.9" stroke="#000" stroke-width="2"/>
<line x1="139" y1="1051.5" x2="143.8" y2="1051.5" stroke="#000" stroke-width="2"/>
<line x1="720.5" y1="1051.5" x2="715.7" y2="1051.5" stroke="#000" stroke-width="2"/>
<line x1="139" y1="1009.2" x2="148" y2="1009.2" stroke="#000" stroke-width="2"/>
<line x1="720.5" y1="1009.2" x2="711.5" y2="1009.2" stroke="#000" stroke-width="2"/>
<line x1="139" y1="966.8" x2="143.8" y2="966.8" stroke="#000" stroke-width="2"/>
<line x1="720.5" y1="966.8" x2="715.7" y2="966.8" stroke="#000" stroke-width="2"/>
<line x1="139" y1="924.5" x2="148" y2="924.5" stroke="#000" stroke-width="2"/>
<line x1="720.5" y1="924.5" x2="711.5" y2="924.5" stroke="#000" stroke-width="2"/>
<line x1="139" y1="882.1" x2="143.8" y2="882.1" stroke="#000" stroke-width="2"/>
<line x1="720.5" y1="882.1" x2="715.7" y2="882.1" stroke="#000" stroke-width="2"/>
<line x1="139" y1="839.7" x2="148" y2="839.7" stroke="#000" stroke-width="2"/>
<line x1="720.5" y1="839.7" x2="711.5" y2="839.7" stroke="#000" stroke-width="2"/>
<line x1="139" y1="797.4" x2="143.8" y2="797.4" stroke="#000" stroke-width="2"/>
<line x1="720.5" y1="797.4" x2="715.7" y2="797.4" stroke="#000" stroke-width="2"/>
<line x1="139" y1="755" x2="148" y2="755" stroke="#000" stroke-width="2"/>
<line x1="720.5" y1="755" x2="711.5" y2="755" stroke="#000" stroke-width="2"/>
<line x1="139" y1="712.7" x2="143.8" y2="712.7" stroke="#000" stroke-width="2"/>
<line x1="720.5" y1="712.7" x2="715.7" y2="712.7" stroke="#000" stroke-width="2"/>
<line x1="139" y1="670.3" x2="148" y2="670.3" stroke="#000" stroke-width="2"/>
<line x1="720.5" y1="670.3" x2="711.5" y2="670.3" stroke="#000" stroke-width="2"/>
<line x1="187.9" y1="670.6" x2="187.9" y2="679.6" stroke="#000" stroke-width="2"/>
<line x1="187.9" y1="1136.2" x2="187.9" y2="1127.2" stroke="#000" stroke-width="2"/>
<line x1="284.6" y1="670.6" x2="284.6" y2="679.6" stroke="#000" stroke-width="2"/>
<line x1="284.6" y1="1136.2" x2="284.6" y2="1127.2" stroke="#000" stroke-width="2"/>
<line x1="381.7" y1="670.6" x2="381.7" y2="679.6" stroke="#000" stroke-width="2"/>
<line x1="381.7" y1="1136.2" x2="381.7" y2="1127.2" stroke="#000" stroke-width="2"/>
<line x1="478.8" y1="670.6" x2="478.8" y2="679.6" stroke="#000" stroke-width="2"/>
<line x1="478.8" y1="1136.2" x2="478.8" y2="1127.2" stroke="#000" stroke-width="2"/>
<line x1="575.5" y1="670.6" x2="575.5" y2="679.6" stroke="#000" stroke-width="2"/>
<line x1="575.5" y1="1136.2" x2="575.5" y2="1127.2" stroke="#000" stroke-width="2"/>
<line x1="673.3" y1="670.6" x2="673.3" y2="679.6" stroke="#000" stroke-width="2"/>
<line x1="673.3" y1="1136.2" x2="673.3" y2="1127.2" stroke="#000" stroke-width="2"/>
<rect x="139" y="670.6" width="581.5" height="465.6" fill="none" stroke="#000" stroke-width="2"/>
<text transform="translate(129,1103.9) scale(1,1.035)" font-size="34" text-anchor="end">0</text>
<text transform="translate(129,1019.2) scale(1,1.035)" font-size="34" text-anchor="end">200</text>
<text transform="translate(129,934.5) scale(1,1.035)" font-size="34" text-anchor="end">400</text>
<text transform="translate(129,849.7) scale(1,1.035)" font-size="34" text-anchor="end">600</text>
<text transform="translate(129,765) scale(1,1.035)" font-size="34" text-anchor="end">800</text>
<text transform="translate(129,680.3) scale(1,1.035)" font-size="34" text-anchor="end">1000</text>
<text transform="translate(25.9,975.4) rotate(-90) scale(1,1.035)" font-size="34">APD [ms]</text>
<text transform="translate(198.8,1172.8) scale(1,1.035)" font-size="34">APD<tspan font-size="23.5" dy="9">20</tspan></text>
<text transform="translate(394.9,1172.8) scale(1,1.035)" font-size="34">APD<tspan font-size="23.5" dy="9">50</tspan></text>
<text transform="translate(591.4,1172.8) scale(1,1.035)" font-size="34">APD<tspan font-size="23.5" dy="9">90</tspan></text>
<rect x="150.8" y="682.6" width="60.3" height="28.9" fill="none" stroke="#000" stroke-width="1.6"/>
<clipPath id="h214"><rect x="150.8" y="716" width="60.3" height="29.1"/></clipPath>
<path d="M150.8,719 L211.1,658.7 M150.8,726.9 L211.1,666.6 M150.8,734.8 L211.1,674.5 M150.8,742.7 L211.1,682.4 M150.8,750.6 L211.1,690.3 M150.8,758.5 L211.1,698.2 M150.8,766.4 L211.1,706.1 M150.8,774.3 L211.1,714 M150.8,782.2 L211.1,721.9 M150.8,790.1 L211.1,729.8 M150.8,798 L211.1,737.7" stroke="#0000ff" stroke-width="0.9" clip-path="url(#h214)"/>
<rect x="150.8" y="716" width="60.3" height="29.1" fill="none" stroke="#0000ff" stroke-width="1.6"/>
<text transform="translate(218.6,705.8) scale(1,1.035)" font-size="27">EGOFET</text>
<text transform="translate(218.6,739.7) scale(1,1.035)" font-size="27">Patch Clamp</text>
<path d="M188.7,893.5 188.8,895.7 189,897.9 189.1,900.1 189.2,902.3 189.4,904.5 189.6,906.7 189.9,908.9 190.1,911.1 190.4,913.4 190.8,915.6 191.2,917.8 191.6,920 192.1,922.2 192.6,924.4 193.2,926.6 193.8,928.8 194.5,931 195.2,933.2 195.9,935.4 196.8,937.6 197.6,939.8 198.5,942 199.4,944.2 200.3,946.5 201.3,948.7 202.3,950.9 203.2,953.1 204.2,955.3 205.1,957.5 206,959.7 206.8,961.9 207.6,964.1 208.3,966.3 209,968.5 209.5,970.7 210,972.9 210.4,975.1 210.7,977.3 210.8,979.5 210.9,981.8 210.8,984 210.7,986.2 210.4,988.4 210,990.6 209.6,992.8 209,995 208.4,997.2 207.6,999.4 206.8,1001.6 206,1003.8 205.1,1006 204.2,1008.2 203.3,1010.4 202.3,1012.6 201.3,1014.8 200.4,1017 199.4,1019.3 198.5,1021.5 197.6,1023.7 196.8,1025.9 196,1028.1 195.2,1030.3 194.5,1032.5 193.8,1034.7 193.2,1036.9 192.6,1039.1 192.1,1041.3 191.6,1043.5 191.2,1045.7 190.8,1047.9 190.4,1050.1 190.1,1052.3 189.9,1054.6 189.6,1056.8 189.4,1059 189.2,1061.2 189.1,1063.4 189,1065.6 188.8,1067.8 188.7,1070" fill="none" stroke="#000" stroke-width="1.5" stroke-linejoin="round"/>
<path d="M383.1,822 383.2,824.8 383.3,827.5 383.4,830.3 383.6,833.1 383.7,835.8 383.9,838.6 384.2,841.4 384.4,844.1 384.7,846.9 385,849.6 385.4,852.4 385.8,855.2 386.2,857.9 386.7,860.7 387.3,863.5 387.8,866.2 388.5,869 389.1,871.8 389.9,874.5 390.6,877.3 391.4,880.1 392.2,882.8 393.1,885.6 394,888.4 394.9,891.1 395.8,893.9 396.6,896.7 397.5,899.4 398.4,902.2 399.2,905 400,907.7 400.7,910.5 401.4,913.2 402,916 402.5,918.8 403,921.5 403.3,924.3 403.6,927.1 403.7,929.8 403.8,932.6 403.7,935.4 403.6,938.1 403.3,940.9 403,943.7 402.5,946.4 402,949.2 401.4,952 400.7,954.7 400,957.5 399.2,960.2 398.4,963 397.5,965.8 396.6,968.5 395.8,971.3 394.9,974.1 394,976.8 393.1,979.6 392.2,982.4 391.4,985.1 390.6,987.9 389.9,990.7 389.1,993.4 388.5,996.2 387.8,999 387.3,1001.7 386.7,1004.5 386.2,1007.3 385.8,1010 385.4,1012.8 385,1015.6 384.7,1018.3 384.4,1021.1 384.2,1023.8 383.9,1026.6 383.7,1029.4 383.6,1032.1 383.4,1034.9 383.3,1037.7 383.2,1040.4 383.1,1043.2" fill="none" stroke="#000" stroke-width="1.5" stroke-linejoin="round"/>
<path d="M577.2,757.5 577.3,760.5 577.4,763.4 577.6,766.4 577.7,769.3 577.9,772.3 578.1,775.2 578.3,778.2 578.6,781.1 578.9,784.1 579.2,787 579.6,790 580,792.9 580.5,795.9 581,798.8 581.6,801.8 582.2,804.7 582.9,807.7 583.6,810.6 584.3,813.6 585.1,816.5 585.9,819.5 586.8,822.5 587.7,825.4 588.6,828.4 589.5,831.3 590.5,834.3 591.4,837.2 592.3,840.2 593.2,843.1 594.1,846.1 594.9,849 595.7,852 596.4,854.9 597,857.9 597.6,860.8 598.1,863.8 598.4,866.7 598.7,869.7 598.8,872.6 598.9,875.6 598.8,878.6 598.7,881.5 598.4,884.5 598.1,887.4 597.6,890.4 597,893.3 596.4,896.3 595.7,899.2 594.9,902.2 594.1,905.1 593.2,908.1 592.3,911 591.4,914 590.5,916.9 589.5,919.9 588.6,922.8 587.7,925.8 586.8,928.7 585.9,931.7 585.1,934.7 584.3,937.6 583.6,940.6 582.9,943.5 582.2,946.5 581.6,949.4 581,952.4 580.5,955.3 580,958.3 579.6,961.2 579.2,964.2 578.9,967.1 578.6,970.1 578.3,973 578.1,976 577.9,978.9 577.7,981.9 577.6,984.8 577.4,987.8 577.3,990.7 577.2,993.7" fill="none" stroke="#000" stroke-width="1.5" stroke-linejoin="round"/>
<path d="M286.5,841.6 286.6,844.7 286.7,847.9 286.8,851 286.9,854.2 287,857.3 287.1,860.5 287.3,863.6 287.5,866.8 287.7,869.9 288,873.1 288.2,876.2 288.5,879.4 288.8,882.5 289.2,885.7 289.6,888.8 290,892 290.5,895.1 291,898.3 291.5,901.4 292.1,904.6 292.7,907.7 293.3,910.9 294,914 294.7,917.2 295.4,920.3 296.2,923.5 296.9,926.6 297.7,929.8 298.5,932.9 299.4,936.1 300.2,939.2 301,942.4 301.8,945.5 302.6,948.7 303.3,951.8 304.1,955 304.8,958.1 305.4,961.3 306,964.4 306.6,967.6 307,970.7 307.5,973.8 307.8,977 308.1,980.1 308.3,983.3 308.4,986.4 308.4,989.6 308.3,992.7 308.2,995.9 308,999 307.7,1002.2 307.3,1005.3 306.9,1008.5 306.4,1011.6 305.8,1014.8 305.2,1017.9 304.6,1021.1 303.9,1024.2 303.1,1027.4 302.3,1030.5 301.5,1033.7 300.7,1036.8 299.9,1040 299.1,1043.1 298.3,1046.3 297.5,1049.4 296.7,1052.6 295.9,1055.7 295.2,1058.9 294.4,1062 293.8,1065.2 293.1,1068.3 292.5,1071.5 291.9,1074.6 291.3,1077.8 290.8,1080.9 290.3,1084.1 289.9,1087.2 289.4,1090.4 289.1,1093.5" fill="none" stroke="#0000ff" stroke-width="1.5" stroke-linejoin="round"/>
<path d="M480.1,713.2 480.2,718 480.3,722.7 480.4,727.5 480.5,732.2 480.7,737 480.9,741.7 481.1,746.5 481.3,751.2 481.5,756 481.8,760.7 482.1,765.5 482.5,770.2 482.9,775 483.3,779.8 483.7,784.5 484.2,789.3 484.8,794 485.4,798.8 486,803.5 486.7,808.3 487.4,813 488.1,817.8 488.9,822.5 489.7,827.3 490.5,832 491.4,836.8 492.3,841.6 493.1,846.3 494,851.1 494.9,855.8 495.7,860.6 496.6,865.3 497.4,870.1 498.2,874.8 498.9,879.6 499.6,884.3 500.2,889.1 500.7,893.8 501.2,898.6 501.6,903.4 501.9,908.1 502.1,912.9 502.3,917.6 502.3,922.4 502.2,927.1 502.1,931.9 501.9,936.6 501.5,941.4 501.1,946.1 500.6,950.9 500.1,955.6 499.4,960.4 498.7,965.1 498,969.9 497.2,974.7 496.4,979.4 495.5,984.2 494.7,988.9 493.8,993.7 492.9,998.4 492,1003.2 491.2,1007.9 490.3,1012.7 489.5,1017.4 488.7,1022.2 487.9,1026.9 487.2,1031.7 486.5,1036.5 485.8,1041.2 485.2,1046 484.7,1050.7 484.1,1055.5 483.6,1060.2 483.2,1065 482.8,1069.7 482.4,1074.5 482.1,1079.2 481.7,1084 481.5,1088.7 481.2,1093.5" fill="none" stroke="#0000ff" stroke-width="1.5" stroke-linejoin="round"/>
<path d="M674.6,713.1 674.7,717.9 674.8,722.6 675,727.4 675.2,732.1 675.4,736.9 675.6,741.6 675.9,746.4 676.2,751.1 676.6,755.9 677,760.6 677.5,765.4 678,770.2 678.6,774.9 679.3,779.7 680,784.4 680.8,789.2 681.6,793.9 682.5,798.7 683.4,803.4 684.4,808.2 685.4,813 686.4,817.7 687.4,822.5 688.5,827.2 689.5,832 690.5,836.7 691.4,841.5 692.3,846.2 693.1,851 693.9,855.8 694.5,860.5 695,865.3 695.4,870 695.7,874.8 695.8,879.5 695.8,884.3 695.6,889 695.4,893.8 695,898.5 694.5,903.3 693.8,908.1 693.1,912.8 692.3,917.6 691.4,922.3 690.4,927.1 689.5,931.8 688.4,936.6 687.4,941.3 686.4,946.1 685.3,950.9 684.3,955.6 683.4,960.4 682.4,965.1 681.6,969.9 680.7,974.6 680,979.4 679.2,984.1 678.6,988.9 678,993.6 677.5,998.4 677,1003.2 676.6,1007.9 676.2,1012.7 675.9,1017.4 675.6,1022.2 675.4,1026.9 675.2,1031.7 675,1036.4 674.8,1041.2 674.7,1046 674.6,1050.7 674.5,1055.5 674.5,1060.2 674.4,1065 674.4,1069.7 674.3,1074.5 674.3,1079.2 674.3,1084 674.3,1088.7 674.2,1093.5" fill="none" stroke="#0000ff" stroke-width="1.5" stroke-linejoin="round"/>
<line x1="168.3" y1="945.5" x2="168.3" y2="954.8" stroke="#000" stroke-width="1.5"/>
<line x1="168.3" y1="1009.2" x2="168.3" y2="1030.8" stroke="#000" stroke-width="1.5"/>
<line x1="164.3" y1="945.5" x2="172.3" y2="945.5" stroke="#000" stroke-width="1.5"/>
<line x1="164.3" y1="1030.8" x2="172.3" y2="1030.8" stroke="#000" stroke-width="1.5"/>
<rect x="153.3" y="954.8" width="30" height="54.4" fill="none" stroke="#000" stroke-width="1.5"/>
<line x1="153.3" y1="975.1" x2="183.3" y2="975.1" stroke="#000" stroke-width="1.5"/>
<line x1="265" y1="890.3" x2="265" y2="943.8" stroke="#0000ff" stroke-width="1.5"/>
<line x1="265" y1="1033.7" x2="265" y2="1049.2" stroke="#0000ff" stroke-width="1.5"/>
<line x1="261" y1="890.3" x2="269" y2="890.3" stroke="#0000ff" stroke-width="1.5"/>
<line x1="261" y1="1049.2" x2="269" y2="1049.2" stroke="#0000ff" stroke-width="1.5"/>
<clipPath id="h235"><rect x="250" y="943.8" width="30" height="89.9"/></clipPath>
<path d="M250,943.8 L280,913.8 M250,952.3 L280,922.3 M250,960.8 L280,930.8 M250,969.3 L280,939.3 M250,977.8 L280,947.8 M250,986.3 L280,956.3 M250,994.8 L280,964.8 M250,1003.3 L280,973.3 M250,1011.8 L280,981.8 M250,1020.3 L280,990.3 M250,1028.8 L280,998.8 M250,1037.3 L280,1007.3 M250,1045.8 L280,1015.8 M250,1054.3 L280,1024.3 M250,1062.8 L280,1032.8" stroke="#0000ff" stroke-width="1.1" clip-path="url(#h235)"/>
<rect x="250" y="943.8" width="30" height="89.9" fill="none" stroke="#0000ff" stroke-width="1.5"/>
<line x1="250" y1="998.4" x2="280" y2="998.4" stroke="#0000ff" stroke-width="1.5"/>
<line x1="362.4" y1="877.8" x2="362.4" y2="899.3" stroke="#000" stroke-width="1.5"/>
<line x1="362.4" y1="966.9" x2="362.4" y2="995.3" stroke="#000" stroke-width="1.5"/>
<line x1="358.4" y1="877.8" x2="366.4" y2="877.8" stroke="#000" stroke-width="1.5"/>
<line x1="358.4" y1="995.3" x2="366.4" y2="995.3" stroke="#000" stroke-width="1.5"/>
<rect x="347.4" y="899.3" width="30" height="67.6" fill="none" stroke="#000" stroke-width="1.5"/>
<line x1="347.4" y1="929.5" x2="377.4" y2="929.5" stroke="#000" stroke-width="1.5"/>
<line x1="459.1" y1="782.1" x2="459.1" y2="857.7" stroke="#0000ff" stroke-width="1.5"/>
<line x1="459.1" y1="988.4" x2="459.1" y2="1007.8" stroke="#0000ff" stroke-width="1.5"/>
<line x1="455.1" y1="782.1" x2="463.1" y2="782.1" stroke="#0000ff" stroke-width="1.5"/>
<line x1="455.1" y1="1007.8" x2="463.1" y2="1007.8" stroke="#0000ff" stroke-width="1.5"/>
<clipPath id="h249"><rect x="444.1" y="857.7" width="30" height="130.7"/></clipPath>
<path d="M444.1,857.7 L474.1,827.7 M444.1,865.8 L474.1,835.8 M444.1,873.9 L474.1,843.9 M444.1,882 L474.1,852 M444.1,890.1 L474.1,860.1 M444.1,898.2 L474.1,868.2 M444.1,906.3 L474.1,876.3 M444.1,914.4 L474.1,884.4 M444.1,922.5 L474.1,892.5 M444.1,930.6 L474.1,900.6 M444.1,938.7 L474.1,908.7 M444.1,946.8 L474.1,916.8 M444.1,954.9 L474.1,924.9 M444.1,963 L474.1,933 M444.1,971.1 L474.1,941.1 M444.1,979.2 L474.1,949.2 M444.1,987.3 L474.1,957.3 M444.1,995.4 L474.1,965.4 M444.1,1003.5 L474.1,973.5 M444.1,1011.6 L474.1,981.6" stroke="#0000ff" stroke-width="0.75" clip-path="url(#h249)"/>
<rect x="444.1" y="857.7" width="30" height="130.7" fill="none" stroke="#0000ff" stroke-width="1.5"/>
<line x1="444.1" y1="929.5" x2="474.1" y2="929.5" stroke="#0000ff" stroke-width="1.5"/>
<line x1="556.4" y1="823.2" x2="556.4" y2="839.2" stroke="#000" stroke-width="1.5"/>
<line x1="556.4" y1="911" x2="556.4" y2="950.4" stroke="#000" stroke-width="1.5"/>
<line x1="552.4" y1="823.2" x2="560.4" y2="823.2" stroke="#000" stroke-width="1.5"/>
<line x1="552.4" y1="950.4" x2="560.4" y2="950.4" stroke="#000" stroke-width="1.5"/>
<rect x="541.4" y="839.2" width="30" height="71.8" fill="none" stroke="#000" stroke-width="1.5"/>
<line x1="541.4" y1="877.2" x2="571.4" y2="877.2" stroke="#000" stroke-width="1.5"/>
<line x1="653.2" y1="756.8" x2="653.2" y2="827.1" stroke="#0000ff" stroke-width="1.5"/>
<line x1="653.2" y1="968.2" x2="653.2" y2="984.9" stroke="#0000ff" stroke-width="1.5"/>
<line x1="649.2" y1="756.8" x2="657.2" y2="756.8" stroke="#0000ff" stroke-width="1.5"/>
<line x1="649.2" y1="984.9" x2="657.2" y2="984.9" stroke="#0000ff" stroke-width="1.5"/>
<clipPath id="h263"><rect x="638.2" y="827.1" width="30" height="141.1"/></clipPath>
<path d="M638.2,827.1 L668.2,797.1 M638.2,835.6 L668.2,805.6 M638.2,844.1 L668.2,814.1 M638.2,852.6 L668.2,822.6 M638.2,861.1 L668.2,831.1 M638.2,869.6 L668.2,839.6 M638.2,878.1 L668.2,848.1 M638.2,886.6 L668.2,856.6 M638.2,895.1 L668.2,865.1 M638.2,903.6 L668.2,873.6 M638.2,912.1 L668.2,882.1 M638.2,920.6 L668.2,890.6 M638.2,929.1 L668.2,899.1 M638.2,937.6 L668.2,907.6 M638.2,946.1 L668.2,916.1 M638.2,954.6 L668.2,924.6 M638.2,963.1 L668.2,933.1 M638.2,971.6 L668.2,941.6 M638.2,980.1 L668.2,950.1 M638.2,988.6 L668.2,958.6 M638.2,997.1 L668.2,967.1" stroke="#0000ff" stroke-width="1.1" clip-path="url(#h263)"/>
<rect x="638.2" y="827.1" width="30" height="141.1" fill="none" stroke="#0000ff" stroke-width="1.5"/>
<line x1="638.2" y1="912.7" x2="668.2" y2="912.7" stroke="#0000ff" stroke-width="1.5"/>
<path d="M171.5,852 V837.7 H268.2 V852" fill="none" stroke="#000" stroke-width="2"/>
<path d="M363.6,778.3 V765.2 H460.7 V778.3" fill="none" stroke="#000" stroke-width="2"/>
<path d="M553,747.4 V734.4 H649.7 V747.4" fill="none" stroke="#000" stroke-width="2"/>
<text transform="translate(203.6,824) scale(1,1.035)" font-size="24.4">n.s</text>
<text transform="translate(396.7,752.7) scale(1,1.035)" font-size="24.4">n.s</text>
<text transform="translate(585.9,722) scale(1,1.035)" font-size="24.4">n.s</text>
<circle cx="192.5" cy="951.6" r="5" fill="url(#gk)"/>
<circle cx="206.7" cy="945.5" r="5" fill="url(#gk)"/>
<circle cx="203.5" cy="953.6" r="5" fill="url(#gk)"/>
<circle cx="199.4" cy="960.2" r="5" fill="url(#gk)"/>
<circle cx="188.3" cy="965.8" r="5" fill="url(#gk)"/>
<circle cx="192.5" cy="969.5" r="5" fill="url(#gk)"/>
<circle cx="195" cy="964.6" r="5" fill="url(#gk)"/>
<circle cx="188.3" cy="981" r="5" fill="url(#gk)"/>
<circle cx="199.4" cy="992" r="5" fill="url(#gk)"/>
<circle cx="195.7" cy="1000.1" r="5" fill="url(#gk)"/>
<circle cx="203.5" cy="1003.3" r="5" fill="url(#gk)"/>
<circle cx="188.3" cy="1015.3" r="5" fill="url(#gk)"/>
<circle cx="195.7" cy="1012.4" r="5" fill="url(#gk)"/>
<circle cx="192.5" cy="1030.8" r="5" fill="url(#gk)"/>
<circle cx="382.7" cy="877.5" r="5" fill="url(#gk)"/>
<circle cx="395.2" cy="887.2" r="5" fill="url(#gk)"/>
<circle cx="382.7" cy="908" r="5" fill="url(#gk)"/>
<circle cx="388.2" cy="908" r="5" fill="url(#gk)"/>
<circle cx="392.4" cy="914.9" r="5" fill="url(#gk)"/>
<circle cx="382.7" cy="928.8" r="5" fill="url(#gk)"/>
<circle cx="388.9" cy="929.5" r="5" fill="url(#gk)"/>
<circle cx="385.5" cy="955.8" r="5" fill="url(#gk)"/>
<circle cx="392.4" cy="958.2" r="5" fill="url(#gk)"/>
<circle cx="402.1" cy="956.5" r="5" fill="url(#gk)"/>
<circle cx="396.6" cy="963.4" r="5" fill="url(#gk)"/>
<circle cx="399.3" cy="966.9" r="5" fill="url(#gk)"/>
<circle cx="382.7" cy="995.3" r="5" fill="url(#gk)"/>
<circle cx="576.1" cy="823.2" r="5" fill="url(#gk)"/>
<circle cx="580.4" cy="822.5" r="5" fill="url(#gk)"/>
<circle cx="583.9" cy="842.8" r="5" fill="url(#gk)"/>
<circle cx="592.8" cy="845.2" r="5" fill="url(#gk)"/>
<circle cx="594.6" cy="844.5" r="5" fill="url(#gk)"/>
<circle cx="576.1" cy="873" r="5" fill="url(#gk)"/>
<circle cx="579.7" cy="876.5" r="5" fill="url(#gk)"/>
<circle cx="587.5" cy="877.2" r="5" fill="url(#gk)"/>
<circle cx="576.1" cy="885.4" r="5" fill="url(#gk)"/>
<circle cx="580.4" cy="884.7" r="5" fill="url(#gk)"/>
<circle cx="587.5" cy="896" r="5" fill="url(#gk)"/>
<circle cx="591" cy="904.2" r="5" fill="url(#gk)"/>
<circle cx="583.9" cy="916.3" r="5" fill="url(#gk)"/>
<circle cx="576.1" cy="950.4" r="5" fill="url(#gk)"/>
<g fill="#0000ff"><polygon points="285.6,884.3 287.2,888.1 291.3,888.4 288.2,891.1 289.1,895.2 285.6,893 282.1,895.2 283,891.1 279.9,888.4 284,888.1"/><polygon points="291.3,921.8 292.9,925.6 297,925.9 293.9,928.6 294.8,932.7 291.3,930.5 287.8,932.7 288.7,928.6 285.6,925.9 289.7,925.6"/><polygon points="296.7,928 298.3,931.8 302.4,932.1 299.3,934.8 300.2,938.9 296.7,936.8 293.2,938.9 294.1,934.8 291,932.1 295.1,931.8"/><polygon points="284.9,934.1 286.5,937.9 290.6,938.2 287.5,940.9 288.4,945 284.9,942.9 281.4,945 282.3,940.9 279.2,938.2 283.3,937.9"/><polygon points="288.6,939 290.2,942.8 294.3,943.1 291.2,945.8 292.1,949.9 288.6,947.8 285.1,949.9 286,945.8 282.9,943.1 287,942.8"/><polygon points="293.7,955.7 295.3,959.5 299.4,959.8 296.3,962.5 297.2,966.6 293.7,964.5 290.2,966.6 291.1,962.5 288,959.8 292.1,959.5"/><polygon points="296.7,966 298.3,969.8 302.4,970.1 299.3,972.8 300.2,976.9 296.7,974.8 293.2,976.9 294.1,972.8 291,970.1 295.1,969.8"/><polygon points="293,973.8 294.6,977.6 298.7,977.9 295.6,980.6 296.5,984.7 293,982.5 289.5,984.7 290.4,980.6 287.3,977.9 291.4,977.6"/><polygon points="288.8,990.5 290.4,994.3 294.5,994.6 291.4,997.3 292.3,1001.4 288.8,999.2 285.3,1001.4 286.2,997.3 283.1,994.6 287.2,994.3"/><polygon points="291.3,992.4 292.9,996.2 297,996.5 293.9,999.2 294.8,1003.3 291.3,1001.1 287.8,1003.3 288.7,999.2 285.6,996.5 289.7,996.2"/><polygon points="284.9,996.6 286.5,1000.4 290.6,1000.7 287.5,1003.4 288.4,1007.5 284.9,1005.4 281.4,1007.5 282.3,1003.4 279.2,1000.7 283.3,1000.4"/><polygon points="290.5,1004.7 292.1,1008.5 296.2,1008.8 293.1,1011.5 294,1015.6 290.5,1013.5 287,1015.6 287.9,1011.5 284.8,1008.8 288.9,1008.5"/><polygon points="304.8,1003.5 306.4,1007.3 310.5,1007.6 307.4,1010.3 308.3,1014.4 304.8,1012.2 301.3,1014.4 302.2,1010.3 299.1,1007.6 303.2,1007.3"/><polygon points="299.1,1014.5 300.7,1018.3 304.8,1018.6 301.7,1021.3 302.6,1025.4 299.1,1023.2 295.6,1025.4 296.5,1021.3 293.4,1018.6 297.5,1018.3"/><polygon points="302.3,1018.7 303.9,1022.5 308,1022.8 304.9,1025.5 305.8,1029.6 302.3,1027.5 298.8,1029.6 299.7,1025.5 296.6,1022.8 300.7,1022.5"/><polygon points="285.6,1033.4 287.2,1037.2 291.3,1037.5 288.2,1040.2 289.1,1044.3 285.6,1042.2 282.1,1044.3 283,1040.2 279.9,1037.5 284,1037.2"/><polygon points="293.7,1029.7 295.3,1033.5 299.4,1033.8 296.3,1036.5 297.2,1040.6 293.7,1038.5 290.2,1040.6 291.1,1036.5 288,1033.8 292.1,1033.5"/><polygon points="288.1,1039 289.7,1042.8 293.8,1043.1 290.7,1045.8 291.6,1049.9 288.1,1047.8 284.6,1049.9 285.5,1045.8 282.4,1043.1 286.5,1042.8"/><polygon points="296.2,1043.2 297.8,1047 301.9,1047.3 298.8,1050 299.7,1054.1 296.2,1052 292.7,1054.1 293.6,1050 290.5,1047.3 294.6,1047"/><polygon points="479.7,775.5 481.3,779.3 485.4,779.6 482.3,782.3 483.2,786.4 479.7,784.2 476.2,786.4 477.1,782.3 474,779.6 478.1,779.3"/><polygon points="486.7,834.4 488.3,838.2 492.4,838.5 489.3,841.2 490.2,845.3 486.7,843.1 483.2,845.3 484.1,841.2 481,838.5 485.1,838.2"/><polygon points="494.6,836.1 496.2,839.9 500.3,840.2 497.2,842.9 498.1,847 494.6,844.9 491.1,847 492,842.9 488.9,840.2 493,839.9"/><polygon points="490.1,846.5 491.7,850.3 495.8,850.6 492.7,853.3 493.6,857.4 490.1,855.2 486.6,857.4 487.5,853.3 484.4,850.6 488.5,850.3"/><polygon points="479.7,866.3 481.3,870.1 485.4,870.4 482.3,873.1 483.2,877.2 479.7,875 476.2,877.2 477.1,873.1 474,870.4 478.1,870.1"/><polygon points="482.5,863.8 484.1,867.6 488.2,867.9 485.1,870.6 486,874.7 482.5,872.5 479,874.7 479.9,870.6 476.8,867.9 480.9,867.6"/><polygon points="483.2,888.8 484.8,892.6 488.9,892.9 485.8,895.6 486.7,899.7 483.2,897.5 479.7,899.7 480.6,895.6 477.5,892.9 481.6,892.6"/><polygon points="479.7,912.4 481.3,916.2 485.4,916.5 482.3,919.2 483.2,923.3 479.7,921.1 476.2,923.3 477.1,919.2 474,916.5 478.1,916.2"/><polygon points="490.1,921 491.7,924.8 495.8,925.1 492.7,927.8 493.6,931.9 490.1,929.8 486.6,931.9 487.5,927.8 484.4,925.1 488.5,924.8"/><polygon points="494.6,923.5 496.2,927.3 500.3,927.6 497.2,930.3 498.1,934.4 494.6,932.2 491.1,934.4 492,930.3 488.9,927.6 493,927.3"/><polygon points="482.5,938.4 484.1,942.2 488.2,942.5 485.1,945.2 486,949.3 482.5,947.1 479,949.3 479.9,945.2 476.8,942.5 480.9,942.2"/><polygon points="479.7,946 481.3,949.8 485.4,950.1 482.3,952.8 483.2,956.9 479.7,954.8 476.2,956.9 477.1,952.8 474,950.1 478.1,949.8"/><polygon points="487.7,957.4 489.3,961.2 493.4,961.5 490.3,964.2 491.2,968.3 487.7,966.1 484.2,968.3 485.1,964.2 482,961.5 486.1,961.2"/><polygon points="498.1,954.7 499.7,958.5 503.8,958.8 500.7,961.5 501.6,965.6 498.1,963.5 494.6,965.6 495.5,961.5 492.4,958.8 496.5,958.5"/><polygon points="494.6,976.5 496.2,980.3 500.3,980.6 497.2,983.3 498.1,987.4 494.6,985.2 491.1,987.4 492,983.3 488.9,980.6 493,980.3"/><polygon points="487.7,986.9 489.3,990.7 493.4,991 490.3,993.7 491.2,997.8 487.7,995.6 484.2,997.8 485.1,993.7 482,991 486.1,990.7"/><polygon points="479.7,991.1 481.3,994.9 485.4,995.2 482.3,997.9 483.2,1002 479.7,999.9 476.2,1002 477.1,997.9 474,995.2 478.1,994.9"/><polygon points="483.2,1000 484.8,1003.8 488.9,1004.1 485.8,1006.8 486.7,1010.9 483.2,1008.8 479.7,1010.9 480.6,1006.8 477.5,1004.1 481.6,1003.8"/><polygon points="490.1,1001.8 491.7,1005.6 495.8,1005.9 492.7,1008.6 493.6,1012.7 490.1,1010.5 486.6,1012.7 487.5,1008.6 484.4,1005.9 488.5,1005.6"/><polygon points="678.8,750.4 680.4,754.2 684.5,754.5 681.4,757.2 682.3,761.3 678.8,759.1 675.3,761.3 676.2,757.2 673.1,754.5 677.2,754.2"/><polygon points="673.5,787 675.1,790.8 679.2,791.1 676.1,793.8 677,797.9 673.5,795.8 670,797.9 670.9,793.8 667.8,791.1 671.9,790.8"/><polygon points="679.9,794.1 681.5,797.9 685.6,798.2 682.5,800.9 683.4,805 679.9,802.9 676.4,805 677.3,800.9 674.2,798.2 678.3,797.9"/><polygon points="673.5,810.1 675.1,813.9 679.2,814.2 676.1,816.9 677,821 673.5,818.9 670,821 670.9,816.9 667.8,814.2 671.9,813.9"/><polygon points="679.1,842.1 680.7,845.9 684.8,846.2 681.7,848.9 682.6,853 679.1,850.9 675.6,853 676.5,848.9 673.4,846.2 677.5,845.9"/><polygon points="673.5,847.4 675.1,851.2 679.2,851.5 676.1,854.2 677,858.3 673.5,856.1 670,858.3 670.9,854.2 667.8,851.5 671.9,851.2"/><polygon points="684.5,854.5 686.1,858.3 690.2,858.6 687.1,861.3 688,865.4 684.5,863.2 681,865.4 681.9,861.3 678.8,858.6 682.9,858.3"/><polygon points="679.1,888.3 680.7,892.1 684.8,892.4 681.7,895.1 682.6,899.2 679.1,897 675.6,899.2 676.5,895.1 673.4,892.4 677.5,892.1"/><polygon points="684.5,897.1 686.1,900.9 690.2,901.2 687.1,903.9 688,908 684.5,905.9 681,908 681.9,903.9 678.8,901.2 682.9,900.9"/><polygon points="690.5,906.7 692.1,910.5 696.2,910.8 693.1,913.5 694,917.6 690.5,915.5 687,917.6 687.9,913.5 684.8,910.8 688.9,910.5"/><polygon points="673.5,917.7 675.1,921.5 679.2,921.8 676.1,924.5 677,928.6 673.5,926.5 670,928.6 670.9,924.5 667.8,921.8 671.9,921.5"/><polygon points="673.5,929.1 675.1,932.9 679.2,933.2 676.1,935.9 677,940 673.5,937.9 670,940 670.9,935.9 667.8,933.2 671.9,932.9"/><polygon points="679.1,932.7 680.7,936.5 684.8,936.8 681.7,939.5 682.6,943.6 679.1,941.5 675.6,943.6 676.5,939.5 673.4,936.8 677.5,936.5"/><polygon points="690.5,935.2 692.1,939 696.2,939.3 693.1,942 694,946.1 690.5,944 687,946.1 687.9,942 684.8,939.3 688.9,939"/><polygon points="684.5,956.5 686.1,960.3 690.2,960.6 687.1,963.3 688,967.4 684.5,965.2 681,967.4 681.9,963.3 678.8,960.6 682.9,960.3"/><polygon points="673.5,968.2 675.1,972 679.2,972.3 676.1,975 677,979.1 673.5,977 670,979.1 670.9,975 667.8,972.3 671.9,972"/><polygon points="684.5,967.1 686.1,970.9 690.2,971.2 687.1,973.9 688,978 684.5,975.9 681,978 681.9,973.9 678.8,971.2 682.9,970.9"/><polygon points="679.1,977.1 680.7,980.9 684.8,981.2 681.7,983.9 682.6,988 679.1,985.9 675.6,988 676.5,983.9 673.4,981.2 677.5,980.9"/><polygon points="690.5,978.1 692.1,981.9 696.2,982.2 693.1,984.9 694,989 690.5,986.9 687,989 687.9,984.9 684.8,982.2 688.9,981.9"/></g>
<text transform="translate(878.7,634.8) scale(1,1.035)" font-size="40">(d)</text>
<line x1="1032" y1="1110.4" x2="1041" y2="1110.4" stroke="#000" stroke-width="2"/>
<line x1="1613.2" y1="1110.4" x2="1604.2" y2="1110.4" stroke="#000" stroke-width="2"/>
<line x1="1032" y1="1084.6" x2="1036.6" y2="1084.6" stroke="#000" stroke-width="2"/>
<line x1="1613.2" y1="1084.6" x2="1608.6" y2="1084.6" stroke="#000" stroke-width="2"/>
<line x1="1032" y1="1058.7" x2="1041" y2="1058.7" stroke="#000" stroke-width="2"/>
<line x1="1613.2" y1="1058.7" x2="1604.2" y2="1058.7" stroke="#000" stroke-width="2"/>
<line x1="1032" y1="1032.9" x2="1036.6" y2="1032.9" stroke="#000" stroke-width="2"/>
<line x1="1613.2" y1="1032.9" x2="1608.6" y2="1032.9" stroke="#000" stroke-width="2"/>
<line x1="1032" y1="1007" x2="1041" y2="1007" stroke="#000" stroke-width="2"/>
<line x1="1613.2" y1="1007" x2="1604.2" y2="1007" stroke="#000" stroke-width="2"/>
<line x1="1032" y1="981.2" x2="1036.6" y2="981.2" stroke="#000" stroke-width="2"/>
<line x1="1613.2" y1="981.2" x2="1608.6" y2="981.2" stroke="#000" stroke-width="2"/>
<line x1="1032" y1="955.3" x2="1041" y2="955.3" stroke="#000" stroke-width="2"/>
<line x1="1613.2" y1="955.3" x2="1604.2" y2="955.3" stroke="#000" stroke-width="2"/>
<line x1="1032" y1="929.5" x2="1036.6" y2="929.5" stroke="#000" stroke-width="2"/>
<line x1="1613.2" y1="929.5" x2="1608.6" y2="929.5" stroke="#000" stroke-width="2"/>
<line x1="1032" y1="903.6" x2="1041" y2="903.6" stroke="#000" stroke-width="2"/>
<line x1="1613.2" y1="903.6" x2="1604.2" y2="903.6" stroke="#000" stroke-width="2"/>
<line x1="1032" y1="877.8" x2="1036.6" y2="877.8" stroke="#000" stroke-width="2"/>
<line x1="1613.2" y1="877.8" x2="1608.6" y2="877.8" stroke="#000" stroke-width="2"/>
<line x1="1032" y1="851.9" x2="1041" y2="851.9" stroke="#000" stroke-width="2"/>
<line x1="1613.2" y1="851.9" x2="1604.2" y2="851.9" stroke="#000" stroke-width="2"/>
<line x1="1032" y1="826.1" x2="1036.6" y2="826.1" stroke="#000" stroke-width="2"/>
<line x1="1613.2" y1="826.1" x2="1608.6" y2="826.1" stroke="#000" stroke-width="2"/>
<line x1="1032" y1="800.2" x2="1041" y2="800.2" stroke="#000" stroke-width="2"/>
<line x1="1613.2" y1="800.2" x2="1604.2" y2="800.2" stroke="#000" stroke-width="2"/>
<line x1="1032" y1="774.4" x2="1036.6" y2="774.4" stroke="#000" stroke-width="2"/>
<line x1="1613.2" y1="774.4" x2="1608.6" y2="774.4" stroke="#000" stroke-width="2"/>
<line x1="1032" y1="748.5" x2="1041" y2="748.5" stroke="#000" stroke-width="2"/>
<line x1="1613.2" y1="748.5" x2="1604.2" y2="748.5" stroke="#000" stroke-width="2"/>
<line x1="1032" y1="722.7" x2="1036.6" y2="722.7" stroke="#000" stroke-width="2"/>
<line x1="1613.2" y1="722.7" x2="1608.6" y2="722.7" stroke="#000" stroke-width="2"/>
<line x1="1032" y1="696.8" x2="1041" y2="696.8" stroke="#000" stroke-width="2"/>
<line x1="1613.2" y1="696.8" x2="1604.2" y2="696.8" stroke="#000" stroke-width="2"/>
<line x1="1090.1" y1="671.1" x2="1090.1" y2="680.1" stroke="#000" stroke-width="2"/>
<line x1="1090.1" y1="1136.4" x2="1090.1" y2="1127.4" stroke="#000" stroke-width="2"/>
<line x1="1148.2" y1="671.1" x2="1148.2" y2="675.7" stroke="#000" stroke-width="2"/>
<line x1="1148.2" y1="1136.4" x2="1148.2" y2="1131.8" stroke="#000" stroke-width="2"/>
<line x1="1206.3" y1="671.1" x2="1206.3" y2="680.1" stroke="#000" stroke-width="2"/>
<line x1="1206.3" y1="1136.4" x2="1206.3" y2="1127.4" stroke="#000" stroke-width="2"/>
<line x1="1264.4" y1="671.1" x2="1264.4" y2="675.7" stroke="#000" stroke-width="2"/>
<line x1="1264.4" y1="1136.4" x2="1264.4" y2="1131.8" stroke="#000" stroke-width="2"/>
<line x1="1322.5" y1="671.1" x2="1322.5" y2="680.1" stroke="#000" stroke-width="2"/>
<line x1="1322.5" y1="1136.4" x2="1322.5" y2="1127.4" stroke="#000" stroke-width="2"/>
<line x1="1380.6" y1="671.1" x2="1380.6" y2="675.7" stroke="#000" stroke-width="2"/>
<line x1="1380.6" y1="1136.4" x2="1380.6" y2="1131.8" stroke="#000" stroke-width="2"/>
<line x1="1438.7" y1="671.1" x2="1438.7" y2="680.1" stroke="#000" stroke-width="2"/>
<line x1="1438.7" y1="1136.4" x2="1438.7" y2="1127.4" stroke="#000" stroke-width="2"/>
<line x1="1496.8" y1="671.1" x2="1496.8" y2="675.7" stroke="#000" stroke-width="2"/>
<line x1="1496.8" y1="1136.4" x2="1496.8" y2="1131.8" stroke="#000" stroke-width="2"/>
<line x1="1554.9" y1="671.1" x2="1554.9" y2="680.1" stroke="#000" stroke-width="2"/>
<line x1="1554.9" y1="1136.4" x2="1554.9" y2="1127.4" stroke="#000" stroke-width="2"/>
<rect x="1032" y="671.1" width="581.2" height="465.3" fill="none" stroke="#000" stroke-width="2"/>
<text transform="translate(1021.6,1120) scale(1,1.035)" font-size="33" text-anchor="end">0.4</text>
<text transform="translate(1021.6,1068.3) scale(1,1.035)" font-size="33" text-anchor="end">0.5</text>
<text transform="translate(1021.6,1016.6) scale(1,1.035)" font-size="33" text-anchor="end">0.6</text>
<text transform="translate(1021.6,964.9) scale(1,1.035)" font-size="33" text-anchor="end">0.7</text>
<text transform="translate(1021.6,913.2) scale(1,1.035)" font-size="33" text-anchor="end">0.8</text>
<text transform="translate(1021.6,861.5) scale(1,1.035)" font-size="33" text-anchor="end">0.9</text>
<text transform="translate(1021.6,809.8) scale(1,1.035)" font-size="33" text-anchor="end">1.0</text>
<text transform="translate(1021.6,758.1) scale(1,1.035)" font-size="33" text-anchor="end">1.1</text>
<text transform="translate(1021.6,706.4) scale(1,1.035)" font-size="33" text-anchor="end">1.2</text>
<text transform="translate(949.9,865.5) rotate(-90) scale(1,1.035)" font-size="33" text-anchor="end"><tspan font-style="italic">f</tspan> [Hz]</text>
<line x1="1090.1" y1="839" x2="1090.1" y2="1071.6" stroke="#000" stroke-width="2"/>
<line x1="1084.8" y1="839" x2="1095.4" y2="839" stroke="#000" stroke-width="2"/>
<line x1="1084.8" y1="1071.6" x2="1095.4" y2="1071.6" stroke="#000" stroke-width="2"/>
<circle cx="1090.1" cy="955.3" r="7.7" fill="url(#gk)"/>
<line x1="1322.5" y1="748.5" x2="1322.5" y2="1089.7" stroke="#0000ff" stroke-width="2"/>
<line x1="1317.2" y1="748.5" x2="1327.8" y2="748.5" stroke="#0000ff" stroke-width="2"/>
<line x1="1317.2" y1="1089.7" x2="1327.8" y2="1089.7" stroke="#0000ff" stroke-width="2"/>
<circle cx="1322.5" cy="919.1" r="7.7" fill="url(#gb)"/>
<line x1="1554.9" y1="1048.4" x2="1554.9" y2="1110.4" stroke="#ff0000" stroke-width="2"/>
<line x1="1549.6" y1="1048.4" x2="1560.2" y2="1048.4" stroke="#ff0000" stroke-width="2"/>
<line x1="1549.6" y1="1110.4" x2="1560.2" y2="1110.4" stroke="#ff0000" stroke-width="2"/>
<circle cx="1554.9" cy="1079.4" r="7.7" fill="url(#gr)"/>
<circle cx="1435" cy="705.4" r="7.7" fill="url(#gk)"/>
<text transform="translate(1466.4,712.7) scale(1,1.035)" font-size="22">EGOFET</text>
<circle cx="1435" cy="732.5" r="7.7" fill="url(#gb)"/>
<text transform="translate(1466.4,739.8) scale(1,1.035)" font-size="22">Patch Clamp</text>
<circle cx="1435" cy="759.7" r="7.7" fill="url(#gr)"/>
<text transform="translate(1466.4,767) scale(1,1.035)" font-size="22">MEAs</text>
</svg></body></html>
